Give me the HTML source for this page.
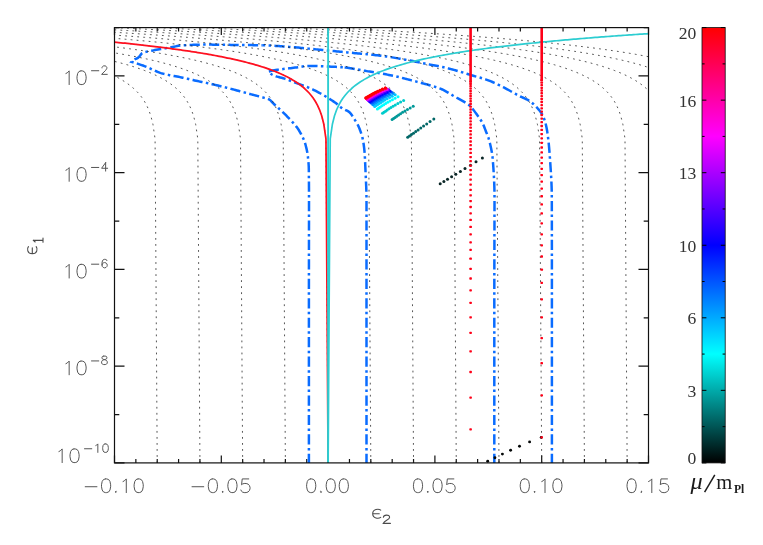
<!DOCTYPE html>
<html><head><meta charset="utf-8"><title>eps1-eps2</title>
<style>html,body{margin:0;padding:0;background:#fff;}svg{display:block;}</style></head>
<body>
<svg width="763" height="545" viewBox="0 0 763 545">
<defs>
<clipPath id="pc"><rect x="114.5" y="27.6" width="534" height="435.3"/></clipPath>
<linearGradient id="cb" x1="0" y1="1" x2="0" y2="0"><stop offset="0" stop-color="#000000"/><stop offset="0.25" stop-color="#00ffff"/><stop offset="0.5" stop-color="#0000ff"/><stop offset="0.75" stop-color="#ff00ff"/><stop offset="1" stop-color="#ff0000"/></linearGradient>
</defs>
<rect x="0" y="0" width="763" height="545" fill="#ffffff"/>
<g stroke="#111111" stroke-width="1.2" fill="none">
<path d="M114.5 462.9 v-7.5 M114.5 27.6 v7.5 M135.86 462.9 v-3.8 M135.86 27.6 v3.8 M157.22 462.9 v-3.8 M157.22 27.6 v3.8 M178.58 462.9 v-3.8 M178.58 27.6 v3.8 M199.94 462.9 v-3.8 M199.94 27.6 v3.8 M221.3 462.9 v-7.5 M221.3 27.6 v7.5 M242.66 462.9 v-3.8 M242.66 27.6 v3.8 M264.02 462.9 v-3.8 M264.02 27.6 v3.8 M285.38 462.9 v-3.8 M285.38 27.6 v3.8 M306.74 462.9 v-3.8 M306.74 27.6 v3.8 M328.1 462.9 v-7.5 M328.1 27.6 v7.5 M349.46 462.9 v-3.8 M349.46 27.6 v3.8 M370.82 462.9 v-3.8 M370.82 27.6 v3.8 M392.18 462.9 v-3.8 M392.18 27.6 v3.8 M413.54 462.9 v-3.8 M413.54 27.6 v3.8 M434.9 462.9 v-7.5 M434.9 27.6 v7.5 M456.26 462.9 v-3.8 M456.26 27.6 v3.8 M477.62 462.9 v-3.8 M477.62 27.6 v3.8 M498.98 462.9 v-3.8 M498.98 27.6 v3.8 M520.34 462.9 v-3.8 M520.34 27.6 v3.8 M541.7 462.9 v-7.5 M541.7 27.6 v7.5 M563.06 462.9 v-3.8 M563.06 27.6 v3.8 M584.42 462.9 v-3.8 M584.42 27.6 v3.8 M605.78 462.9 v-3.8 M605.78 27.6 v3.8 M627.14 462.9 v-3.8 M627.14 27.6 v3.8 M648.5 462.9 v-7.5 M648.5 27.6 v7.5 M114.5 27.6 h4.8 M648.5 27.6 h-4.8 M114.5 75.97 h10 M648.5 75.97 h-10 M114.5 124.33 h4.8 M648.5 124.33 h-4.8 M114.5 172.7 h10 M648.5 172.7 h-10 M114.5 221.07 h4.8 M648.5 221.07 h-4.8 M114.5 269.43 h10 M648.5 269.43 h-10 M114.5 317.8 h4.8 M648.5 317.8 h-4.8 M114.5 366.17 h10 M648.5 366.17 h-10 M114.5 414.53 h4.8 M648.5 414.53 h-4.8 M114.5 462.9 h10 M648.5 462.9 h-10"/>
</g>
<g clip-path="url(#pc)" fill="none">
<path d="M308.9 464 L308.9 462.5 L308.9 461 L308.9 459.51 L308.9 458.01 L308.9 456.51 L308.9 455.01 L308.9 453.52 L308.9 452.02 L308.9 450.52 L308.9 449.02 L308.9 447.53 L308.9 446.03 L308.9 444.53 L308.9 443.03 L308.9 441.54 L308.9 440.04 L308.9 438.54 L308.9 437.04 L308.9 435.55 L308.9 434.05 L308.9 432.55 L308.9 431.05 L308.9 429.55 L308.9 428.06 L308.9 426.56 L308.9 425.06 L308.9 423.56 L308.9 422.07 L308.9 420.57 L308.9 419.07 L308.9 417.57 L308.9 416.08 L308.9 414.58 L308.9 413.08 L308.9 411.58 L308.9 410.09 L308.9 408.59 L308.9 407.09 L308.9 405.59 L308.9 404.1 L308.9 402.6 L308.9 401.1 L308.9 399.6 L308.9 398.11 L308.9 396.61 L308.9 395.11 L308.9 393.61 L308.9 392.11 L308.9 390.62 L308.9 389.12 L308.9 387.62 L308.9 386.12 L308.9 384.63 L308.9 383.13 L308.9 381.63 L308.9 380.13 L308.9 378.64 L308.9 377.14 L308.9 375.64 L308.9 374.14 L308.9 372.65 L308.9 371.15 L308.9 369.65 L308.9 368.15 L308.9 366.66 L308.9 365.16 L308.9 363.66 L308.9 362.16 L308.9 360.66 L308.9 359.17 L308.9 357.67 L308.9 356.17 L308.9 354.67 L308.9 353.18 L308.9 351.68 L308.9 350.18 L308.9 348.68 L308.9 347.19 L308.9 345.69 L308.9 344.19 L308.9 342.69 L308.9 341.2 L308.9 339.7 L308.9 338.2 L308.9 336.7 L308.9 335.21 L308.9 333.71 L308.9 332.21 L308.9 330.71 L308.9 329.21 L308.9 327.72 L308.9 326.22 L308.9 324.72 L308.9 323.22 L308.9 321.73 L308.9 320.23 L308.9 318.73 L308.9 317.23 L308.9 315.74 L308.9 314.24 L308.9 312.74 L308.9 311.24 L308.9 309.75 L308.9 308.25 L308.9 306.75 L308.9 305.25 L308.9 303.76 L308.9 302.26 L308.9 300.76 L308.9 299.26 L308.9 297.77 L308.9 296.27 L308.9 294.77 L308.9 293.27 L308.9 291.77 L308.9 290.28 L308.9 288.78 L308.9 287.28 L308.91 285.78 L308.91 284.29 L308.91 282.79 L308.91 281.29 L308.91 279.79 L308.91 278.3 L308.91 276.8 L308.92 275.3 L308.92 273.8 L308.92 272.31 L308.92 270.81 L308.92 269.31 L308.92 267.81 L308.93 266.32 L308.93 264.82 L308.93 263.32 L308.93 261.82 L308.93 260.32 L308.94 258.83 L308.94 257.33 L308.94 255.83 L308.94 254.33 L308.95 252.84 L308.95 251.34 L308.95 249.84 L308.95 248.34 L308.95 246.85 L308.96 245.35 L308.96 243.85 L308.96 242.35 L308.96 240.86 L308.97 239.36 L308.97 237.86 L308.97 236.36 L308.97 234.87 L308.97 233.37 L308.98 231.87 L308.98 230.37 L308.98 228.87 L308.98 227.38 L308.98 225.88 L308.99 224.38 L308.99 222.88 L308.99 221.39 L308.99 219.89 L308.99 218.39 L308.99 216.89 L308.99 215.4 L308.99 213.9 L309 212.4 L309 210.9 L309 209.41 L309 207.91 L309 206.41 L309 204.91 L309 203.42 L309 201.92 L309 200.42 L309 198.92 L309 197.42 L309 195.93 L308.99 194.43 L308.99 192.93 L308.99 191.43 L308.98 189.93 L308.98 188.44 L308.97 186.94 L308.96 185.44 L308.95 183.94 L308.94 182.44 L308.93 180.94 L308.92 179.45 L308.91 177.95 L308.89 176.45 L308.88 174.96 L308.86 173.46 L308.84 171.96 L308.82 170.47 L308.8 168.97 L308.78 167.47 L308.71 165.98 L308.63 164.48 L308.52 162.98 L308.39 161.49 L308.24 160 L308.09 158.51 L307.94 157.02 L307.75 155.54 L307.53 154.05 L307.29 152.56 L307.01 151.08 L306.71 149.6 L306.38 148.13 L306.03 146.68 L305.67 145.25 L305.27 143.83 L304.81 142.41 L304.29 141 L303.73 139.59 L303.13 138.19 L302.49 136.81 L301.81 135.45 L301.11 134.11 L300.4 132.8 L299.66 131.52 L298.91 130.26 L298.11 129.04 L297.26 127.83 L296.37 126.64 L295.43 125.47 L294.46 124.32 L293.47 123.18 L292.45 122.05 L291.41 120.94 L290.37 119.83 L289.32 118.74 L288.27 117.65 L287.23 116.56 L286.2 115.48 L285.16 114.42 L284.09 113.37 L283.01 112.34 L281.92 111.31 L280.82 110.3 L279.71 109.28 L278.6 108.28 L277.48 107.27 L276.37 106.26 L275.27 105.25 L274.17 104.23 L273.08 103.19 L272.04 102.04 L270.99 100.91 L269.89 99.93 L268.67 99.24 L267.33 98.71 L265.89 98.25 L264.41 97.85 L262.92 97.46 L261.46 97.06 L260.02 96.65 L258.57 96.26 L257.13 95.87 L255.68 95.49 L254.23 95.11 L252.78 94.73 L251.33 94.35 L249.88 93.96 L248.44 93.56 L246.99 93.17 L245.55 92.77 L244.11 92.38 L242.66 91.98 L241.22 91.59 L239.77 91.2 L238.32 90.81 L236.88 90.42 L235.43 90.03 L233.98 89.65 L232.54 89.27 L231.09 88.89 L229.64 88.52 L228.19 88.15 L226.73 87.77 L225.28 87.4 L223.83 87.03 L222.38 86.66 L220.93 86.3 L219.47 85.94 L218.02 85.58 L216.56 85.23 L215.11 84.87 L213.65 84.53 L212.19 84.19 L210.73 83.86 L209.27 83.53 L207.81 83.21 L206.34 82.9 L204.88 82.61 L203.41 82.31 L201.94 82.01 L200.47 81.7 L199.01 81.39 L197.55 81.06 L196.09 80.74 L194.62 80.41 L193.16 80.08 L191.7 79.75 L190.24 79.41 L188.78 79.08 L187.32 78.75 L185.86 78.42 L184.4 78.09 L182.94 77.77 L181.48 77.45 L180.01 77.13 L178.54 76.84 L177.06 76.55 L175.58 76.27 L174.1 76 L172.62 75.73 L171.15 75.45 L169.67 75.17 L168.2 74.87 L166.74 74.56 L165.28 74.23 L163.84 73.88 L162.41 73.5 L160.99 73.08 L159.59 72.6 L158.2 72.07 L156.81 71.51 L155.44 70.91 L154.06 70.3 L152.69 69.66 L151.33 69.03 L149.96 68.4 L148.58 67.77 L147.2 67.17 L145.82 66.59 L144.42 66.05 L143.01 65.55 L141.6 65.06 L140.19 64.57 L138.76 64.1 L137.34 63.64 L135.91 63.19 L134.48 62.75 L133.04 62.32 L131.6 61.9 L132.68 60.84 L133.85 59.91 L135.13 59.16 L136.52 58.52 L137.85 57.83 L138.99 56.9 L139.99 55.69 L140.95 54.42 L141.97 53.33 L143.14 52.66 L144.49 52.21 L145.97 51.86 L147.5 51.56 L149.02 51.26 L150.48 50.95 L151.95 50.66 L153.42 50.37 L154.89 50.1 L156.37 49.83 L157.85 49.57 L159.32 49.31 L160.8 49.06 L162.28 48.81 L163.76 48.57 L165.24 48.32 L166.72 48.07 L168.19 47.81 L169.67 47.54 L171.15 47.25 L172.62 46.95 L174.1 46.65 L175.57 46.36 L177.05 46.09 L178.53 45.84 L180.01 45.62 L181.49 45.45 L182.98 45.32 L184.47 45.24 L185.96 45.17 L187.45 45.1 L188.95 45.03 L190.44 44.97 L191.94 44.91 L193.44 44.85 L194.94 44.8 L196.44 44.76 L197.94 44.72 L199.44 44.68 L200.95 44.65 L202.45 44.63 L203.95 44.61 L205.45 44.6 L206.95 44.6 L208.45 44.6 L209.94 44.61 L211.44 44.62 L212.94 44.63 L214.44 44.65 L215.94 44.66 L217.44 44.69 L218.94 44.71 L220.44 44.73 L221.93 44.75 L223.43 44.78 L224.93 44.8 L226.43 44.83 L227.93 44.85 L229.43 44.87 L230.93 44.89 L232.43 44.91 L233.92 44.93 L235.42 44.95 L236.92 44.96 L238.42 44.98 L239.92 44.99 L241.42 45.01 L242.92 45.02 L244.42 45.04 L245.92 45.05 L247.42 45.07 L248.92 45.08 L250.41 45.1 L251.91 45.12 L253.41 45.14 L254.91 45.16 L256.41 45.18 L257.91 45.21 L259.41 45.23 L260.9 45.26 L262.4 45.29" stroke="#0a6cff" stroke-width="2.5" stroke-dasharray="10.2 3.35 2.5 3.4" stroke-linejoin="miter"/>
<path d="M551.9 464 L551.9 462.5 L551.9 461 L551.9 459.5 L551.9 458 L551.9 456.51 L551.9 455.01 L551.9 453.51 L551.9 452.01 L551.9 450.51 L551.9 449.01 L551.9 447.51 L551.9 446.01 L551.9 444.52 L551.9 443.02 L551.9 441.52 L551.9 440.02 L551.9 438.52 L551.9 437.02 L551.9 435.52 L551.9 434.02 L551.9 432.52 L551.9 431.03 L551.9 429.53 L551.9 428.03 L551.9 426.53 L551.9 425.03 L551.9 423.53 L551.9 422.03 L551.9 420.53 L551.9 419.04 L551.9 417.54 L551.9 416.04 L551.9 414.54 L551.9 413.04 L551.9 411.54 L551.9 410.04 L551.9 408.54 L551.9 407.04 L551.9 405.55 L551.9 404.05 L551.9 402.55 L551.9 401.05 L551.9 399.55 L551.9 398.05 L551.9 396.55 L551.9 395.05 L551.9 393.56 L551.9 392.06 L551.9 390.56 L551.9 389.06 L551.9 387.56 L551.9 386.06 L551.9 384.56 L551.9 383.06 L551.9 381.56 L551.9 380.07 L551.9 378.57 L551.9 377.07 L551.9 375.57 L551.9 374.07 L551.9 372.57 L551.9 371.07 L551.9 369.57 L551.9 368.07 L551.9 366.58 L551.9 365.08 L551.9 363.58 L551.9 362.08 L551.9 360.58 L551.9 359.08 L551.9 357.58 L551.9 356.08 L551.9 354.59 L551.9 353.09 L551.9 351.59 L551.9 350.09 L551.9 348.59 L551.9 347.09 L551.9 345.59 L551.9 344.09 L551.9 342.59 L551.9 341.1 L551.9 339.6 L551.9 338.1 L551.9 336.6 L551.9 335.1 L551.9 333.6 L551.9 332.1 L551.9 330.6 L551.9 329.11 L551.9 327.61 L551.9 326.11 L551.9 324.61 L551.9 323.11 L551.9 321.61 L551.9 320.11 L551.9 318.61 L551.9 317.11 L551.9 315.62 L551.9 314.12 L551.9 312.62 L551.9 311.12 L551.9 309.62 L551.9 308.12 L551.9 306.62 L551.9 305.12 L551.9 303.63 L551.9 302.13 L551.9 300.63 L551.9 299.13 L551.9 297.63 L551.9 296.13 L551.9 294.63 L551.9 293.13 L551.9 291.63 L551.9 290.14 L551.9 288.64 L551.9 287.14 L551.9 285.64 L551.9 284.14 L551.9 282.64 L551.9 281.14 L551.9 279.64 L551.9 278.14 L551.9 276.64 L551.9 275.14 L551.89 273.65 L551.89 272.15 L551.89 270.65 L551.89 269.15 L551.89 267.65 L551.89 266.15 L551.89 264.65 L551.89 263.15 L551.89 261.65 L551.89 260.15 L551.89 258.65 L551.89 257.15 L551.88 255.66 L551.88 254.16 L551.88 252.66 L551.88 251.16 L551.88 249.66 L551.88 248.16 L551.88 246.66 L551.88 245.16 L551.87 243.66 L551.87 242.16 L551.87 240.66 L551.87 239.17 L551.87 237.67 L551.87 236.17 L551.86 234.67 L551.86 233.17 L551.86 231.67 L551.86 230.17 L551.86 228.67 L551.85 227.17 L551.85 225.68 L551.85 224.18 L551.85 222.68 L551.85 221.18 L551.84 219.68 L551.84 218.18 L551.84 216.68 L551.84 215.19 L551.83 213.69 L551.83 212.19 L551.83 210.69 L551.82 209.19 L551.82 207.69 L551.82 206.2 L551.82 204.7 L551.81 203.2 L551.81 201.7 L551.81 200.2 L551.8 198.71 L551.8 197.21 L551.79 195.71 L551.78 194.21 L551.76 192.71 L551.73 191.22 L551.7 189.72 L551.65 188.22 L551.61 186.72 L551.55 185.22 L551.49 183.73 L551.43 182.23 L551.36 180.73 L551.28 179.23 L551.21 177.73 L551.12 176.23 L551.04 174.74 L550.95 173.24 L550.86 171.74 L550.76 170.25 L550.66 168.75 L550.56 167.25 L550.46 165.76 L550.36 164.26 L550.25 162.76 L550.15 161.27 L550.04 159.77 L549.93 158.28 L549.83 156.79 L549.72 155.29 L549.61 153.8 L549.5 152.3 L549.39 150.81 L549.26 149.31 L549.14 147.81 L549 146.31 L548.86 144.81 L548.71 143.31 L548.55 141.82 L548.39 140.32 L548.22 138.83 L548.03 137.35 L547.84 135.86 L547.64 134.38 L547.42 132.9 L547.2 131.43 L546.96 129.97 L546.7 128.49 L546.4 127.01 L546.07 125.52 L545.7 124.04 L545.3 122.57 L544.87 121.11 L544.41 119.68 L543.91 118.28 L543.38 116.91 L542.81 115.58 L542.13 114.28 L541.33 113.01 L540.45 111.77 L539.5 110.56 L538.53 109.39 L537.55 108.26 L536.56 107.15 L535.52 106.05 L534.44 104.98 L533.33 103.94 L532.18 102.95 L531.01 102.03 L529.81 101.17 L528.57 100.39 L527.28 99.68 L525.94 99.01 L524.58 98.37 L523.19 97.75 L521.81 97.13 L520.43 96.5 L519.07 95.84 L517.74 95.15 L516.42 94.44 L515.11 93.72 L513.8 92.98 L512.49 92.24 L511.19 91.5 L509.88 90.76 L508.58 90.03 L507.27 89.3 L505.95 88.58 L504.63 87.88 L503.3 87.2 L501.96 86.53 L500.61 85.87 L499.27 85.2 L497.91 84.54 L496.56 83.89 L495.2 83.25 L493.83 82.62 L492.46 82.01 L491.08 81.42 L489.7 80.85 L488.31 80.31 L486.91 79.8 L485.5 79.31 L484.08 78.84 L482.65 78.4 L481.21 77.97 L479.77 77.56 L478.33 77.15 L476.88 76.74 L475.43 76.34 L473.99 75.93 L472.54 75.51 L471.11 75.08 L469.67 74.64 L468.24 74.2 L466.81 73.75 L465.38 73.3 L463.95 72.85 L462.52 72.41 L461.08 71.97 L459.65 71.53 L458.21 71.11 L456.77 70.7 L455.33 70.3 L453.88 69.91 L452.44 69.52 L450.99 69.14 L449.53 68.76 L448.08 68.39 L446.63 68.03 L445.17 67.68 L443.71 67.33 L442.25 67 L440.79 66.67 L439.32 66.36 L437.85 66.06 L436.38 65.78 L434.91 65.5 L433.43 65.23 L431.96 64.95 L430.49 64.68 L429.02 64.39 L427.55 64.09 L426.08 63.8 L424.61 63.5 L423.14 63.2 L421.67 62.89 L420.2 62.59 L418.73 62.29 L417.27 61.99 L415.8 61.69 L414.33 61.39 L412.86 61.1 L411.39 60.82 L409.91 60.54 L408.44 60.26 L406.97 59.99 L405.49 59.72 L404.02 59.45 L402.54 59.18 L401.07 58.92 L399.59 58.65 L398.11 58.39 L396.64 58.13 L395.16 57.87 L393.68 57.62 L392.2 57.37 L390.72 57.13 L389.24 56.9 L387.76 56.67 L386.28 56.46 L384.79 56.25 L383.31 56.05 L381.83 55.86 L380.34 55.68 L378.85 55.51 L377.36 55.34 L375.88 55.17 L374.39 55.01 L372.9 54.86 L371.4 54.7 L369.91 54.55 L368.42 54.41 L366.93 54.26 L365.44 54.12 L363.94 53.98 L362.45 53.84 L360.96 53.7 L359.46 53.56 L357.97 53.42 L356.48 53.28 L354.98 53.14 L353.49 53 L352 52.85 L350.51 52.7 L349.02 52.55 L347.52 52.41 L346.03 52.26 L344.54 52.11 L343.05 51.97 L341.56 51.82 L340.07 51.68 L338.57 51.53 L337.08 51.39 L335.59 51.25 L334.1 51.1 L332.61 50.96 L331.11 50.82 L329.62 50.67 L328.13 50.53 L326.64 50.39 L325.15 50.24 L323.65 50.1 L322.16 49.96 L320.67 49.81 L319.18 49.67 L317.69 49.52 L316.2 49.38 L314.7 49.23 L313.21 49.07 L311.72 48.92 L310.23 48.77 L308.74 48.62 L307.25 48.47 L305.75 48.32 L304.26 48.17 L302.77 48.03 L301.28 47.89 L299.79 47.75 L298.29 47.62 L296.8 47.49 L295.31 47.37 L293.81 47.25 L292.32 47.14 L290.83 47.02 L289.33 46.9 L287.84 46.78 L286.34 46.66 L284.85 46.55 L283.35 46.43 L281.86 46.32 L280.36 46.2 L278.86 46.1 L277.37 45.99 L275.87 45.89 L274.38 45.8 L272.88 45.71 L271.38 45.62 L269.89 45.55 L268.39 45.48 L266.89 45.42 L265.39 45.37 L263.9 45.32 L262.4 45.29" stroke="#0a6cff" stroke-width="2.5" stroke-dasharray="10.2 3.35 2.5 3.4" stroke-linejoin="miter"/>
<path d="M366.5 464 L366.5 462.5 L366.5 461 L366.5 459.5 L366.5 458 L366.5 456.5 L366.5 455 L366.5 453.51 L366.5 452.01 L366.5 450.51 L366.5 449.01 L366.5 447.51 L366.5 446.01 L366.5 444.51 L366.5 443.01 L366.5 441.51 L366.5 440.01 L366.5 438.51 L366.5 437.01 L366.5 435.52 L366.5 434.02 L366.5 432.52 L366.5 431.02 L366.5 429.52 L366.5 428.02 L366.5 426.52 L366.5 425.02 L366.5 423.52 L366.5 422.02 L366.5 420.52 L366.5 419.02 L366.5 417.53 L366.5 416.03 L366.5 414.53 L366.5 413.03 L366.5 411.53 L366.5 410.03 L366.5 408.53 L366.5 407.03 L366.5 405.53 L366.5 404.03 L366.5 402.53 L366.5 401.03 L366.5 399.54 L366.5 398.04 L366.5 396.54 L366.5 395.04 L366.5 393.54 L366.5 392.04 L366.5 390.54 L366.5 389.04 L366.5 387.54 L366.5 386.04 L366.5 384.54 L366.5 383.04 L366.5 381.54 L366.5 380.05 L366.5 378.55 L366.5 377.05 L366.5 375.55 L366.5 374.05 L366.5 372.55 L366.5 371.05 L366.5 369.55 L366.5 368.05 L366.5 366.55 L366.5 365.05 L366.5 363.55 L366.5 362.06 L366.5 360.56 L366.5 359.06 L366.5 357.56 L366.5 356.06 L366.5 354.56 L366.5 353.06 L366.5 351.56 L366.5 350.06 L366.5 348.56 L366.5 347.06 L366.5 345.56 L366.5 344.07 L366.5 342.57 L366.5 341.07 L366.5 339.57 L366.5 338.07 L366.5 336.57 L366.5 335.07 L366.5 333.57 L366.5 332.07 L366.5 330.57 L366.5 329.07 L366.5 327.57 L366.5 326.08 L366.5 324.58 L366.5 323.08 L366.5 321.58 L366.5 320.08 L366.5 318.58 L366.5 317.08 L366.5 315.58 L366.5 314.08 L366.5 312.58 L366.5 311.08 L366.5 309.58 L366.5 308.08 L366.5 306.59 L366.5 305.09 L366.5 303.59 L366.5 302.09 L366.5 300.59 L366.5 299.09 L366.5 297.59 L366.5 296.09 L366.5 294.59 L366.5 293.09 L366.5 291.59 L366.5 290.09 L366.5 288.6 L366.5 287.1 L366.5 285.6 L366.5 284.1 L366.5 282.6 L366.5 281.1 L366.5 279.6 L366.5 278.1 L366.5 276.6 L366.5 275.1 L366.5 273.6 L366.5 272.1 L366.5 270.6 L366.5 269.1 L366.5 267.6 L366.5 266.11 L366.5 264.61 L366.5 263.11 L366.5 261.61 L366.5 260.11 L366.5 258.61 L366.5 257.11 L366.5 255.61 L366.5 254.11 L366.5 252.61 L366.5 251.11 L366.5 249.61 L366.5 248.11 L366.5 246.61 L366.5 245.11 L366.5 243.62 L366.5 242.12 L366.5 240.62 L366.5 239.12 L366.5 237.62 L366.5 236.12 L366.5 234.62 L366.5 233.12 L366.5 231.62 L366.5 230.12 L366.5 228.62 L366.5 227.12 L366.5 225.62 L366.5 224.13 L366.5 222.63 L366.5 221.13 L366.5 219.63 L366.5 218.13 L366.5 216.63 L366.5 215.13 L366.5 213.63 L366.5 212.13 L366.5 210.64 L366.5 209.14 L366.5 207.64 L366.5 206.14 L366.5 204.64 L366.5 203.14 L366.5 201.64 L366.5 200.14 L366.5 198.65 L366.48 197.15 L366.46 195.65 L366.44 194.15 L366.4 192.65 L366.36 191.15 L366.32 189.65 L366.27 188.16 L366.21 186.66 L366.15 185.16 L366.09 183.66 L366.02 182.16 L365.96 180.66 L365.89 179.17 L365.82 177.67 L365.75 176.17 L365.67 174.67 L365.6 173.17 L365.54 171.68 L365.47 170.18 L365.4 168.68 L365.34 167.18 L365.28 165.68 L365.21 164.18 L365.15 162.69 L365.08 161.19 L365.01 159.69 L364.93 158.19 L364.85 156.69 L364.76 155.2 L364.66 153.71 L364.55 152.21 L364.42 150.72 L364.27 149.22 L364.1 147.72 L363.92 146.23 L363.72 144.74 L363.5 143.26 L363.26 141.78 L363 140.32 L362.71 138.86 L362.37 137.4 L361.98 135.94 L361.56 134.49 L361.1 133.05 L360.6 131.62 L360.08 130.2 L359.55 128.81 L358.99 127.44 L358.39 126.09 L357.72 124.76 L357 123.44 L356.25 122.14 L355.46 120.84 L354.65 119.56 L353.83 118.29 L353.02 117.03 L352.21 115.75 L351.39 114.44 L350.5 113.24 L349.49 112.25 L348.31 111.43 L347 110.7 L345.62 110.03 L344.22 109.36 L342.86 108.65 L341.59 107.85 L340.4 106.95 L339.26 105.99 L338.12 104.99 L336.98 104.01 L335.81 103.08 L334.59 102.21 L333.36 101.36 L332.11 100.53 L330.84 99.72 L329.57 98.92 L328.3 98.13 L327.02 97.34 L325.75 96.55 L324.46 95.77 L323.18 95.01 L321.88 94.25 L320.57 93.52 L319.26 92.8 L317.94 92.09 L316.61 91.39 L315.28 90.7 L313.93 90.03 L312.58 89.37 L311.22 88.74 L309.86 88.14 L308.48 87.56 L307.09 87.01 L305.69 86.48 L304.28 85.96 L302.87 85.45 L301.45 84.94 L300.04 84.43 L298.63 83.92 L297.22 83.4 L295.82 82.86 L294.42 82.32 L293.02 81.78 L291.62 81.24 L290.22 80.71 L288.82 80.18 L287.42 79.66 L286.01 79.15 L284.59 78.66 L283.14 78.22 L281.67 77.81 L280.18 77.43 L278.69 77.04 L277.22 76.64 L275.78 76.21 L274.39 75.72 L273.05 75.17 L271.8 74.51 L270.61 73.64 L269.48 72.61 L268.4 71.5 L269.87 71.18 L271.34 70.87 L272.81 70.58 L274.28 70.31 L275.76 70.06 L277.24 69.83 L278.72 69.62 L280.21 69.41 L281.69 69.21 L283.18 69.02 L284.67 68.84 L286.16 68.66 L287.65 68.49 L289.14 68.32 L290.63 68.14 L292.12 67.97 L293.61 67.79 L295.1 67.61 L296.59 67.41 L298.08 67.19 L299.57 66.96 L301.06 66.73 L302.55 66.51 L304.03 66.32 L305.53 66.15 L307.02 66.02 L308.51 65.93 L310 65.9 L311.5 65.91 L313 65.94 L314.5 65.99 L316 66.04 L317.5 66.1 L319 66.16 L320.5 66.22 L322 66.27 L323.5 66.33 L325 66.39 L326.5 66.45 L328 66.51 L329.5 66.57 L331 66.64 L332.5 66.71 L334 66.79 L335.5 66.87 L336.99 66.95 L338.49 67.04 L339.98 67.14 L341.48 67.24 L342.97 67.35" stroke="#0a6cff" stroke-width="2.5" stroke-dasharray="10.2 3.35 2.5 3.4" stroke-linejoin="miter"/>
<path d="M494.3 464 L494.3 462.5 L494.3 461 L494.3 459.5 L494.3 458 L494.3 456.5 L494.3 455 L494.3 453.5 L494.3 452 L494.3 450.5 L494.3 449 L494.3 447.5 L494.3 446 L494.3 444.5 L494.3 443 L494.3 441.5 L494.3 440 L494.3 438.5 L494.3 437 L494.3 435.5 L494.3 434 L494.3 432.5 L494.3 431 L494.3 429.5 L494.3 428 L494.3 426.5 L494.3 425 L494.3 423.5 L494.3 422 L494.3 420.51 L494.3 419.01 L494.3 417.51 L494.3 416.01 L494.3 414.51 L494.3 413.01 L494.3 411.51 L494.3 410.01 L494.3 408.51 L494.3 407.01 L494.3 405.51 L494.3 404.01 L494.3 402.51 L494.3 401.01 L494.3 399.51 L494.3 398.01 L494.3 396.51 L494.3 395.01 L494.3 393.51 L494.3 392.01 L494.3 390.51 L494.3 389.01 L494.3 387.51 L494.3 386.01 L494.3 384.51 L494.3 383.01 L494.3 381.51 L494.3 380.01 L494.3 378.51 L494.3 377.01 L494.3 375.51 L494.3 374.01 L494.3 372.51 L494.3 371.01 L494.3 369.51 L494.3 368.01 L494.3 366.51 L494.3 365.01 L494.3 363.51 L494.3 362.01 L494.3 360.51 L494.3 359.01 L494.3 357.51 L494.3 356.01 L494.3 354.51 L494.3 353.01 L494.3 351.51 L494.3 350.01 L494.3 348.51 L494.3 347.01 L494.3 345.51 L494.3 344.01 L494.3 342.51 L494.3 341.01 L494.3 339.51 L494.3 338.01 L494.3 336.52 L494.3 335.02 L494.3 333.52 L494.3 332.02 L494.3 330.52 L494.3 329.02 L494.3 327.52 L494.3 326.02 L494.3 324.52 L494.3 323.02 L494.3 321.52 L494.3 320.02 L494.3 318.52 L494.3 317.02 L494.3 315.52 L494.3 314.02 L494.3 312.52 L494.3 311.02 L494.3 309.52 L494.3 308.02 L494.3 306.52 L494.3 305.02 L494.3 303.52 L494.3 302.02 L494.3 300.52 L494.3 299.02 L494.3 297.52 L494.3 296.02 L494.3 294.52 L494.3 293.02 L494.3 291.52 L494.31 290.02 L494.31 288.52 L494.31 287.02 L494.31 285.52 L494.31 284.02 L494.32 282.52 L494.32 281.02 L494.32 279.52 L494.32 278.02 L494.33 276.52 L494.33 275.02 L494.33 273.52 L494.34 272.02 L494.34 270.52 L494.34 269.02 L494.35 267.52 L494.35 266.02 L494.35 264.52 L494.36 263.02 L494.36 261.52 L494.37 260.02 L494.37 258.52 L494.38 257.02 L494.38 255.52 L494.38 254.02 L494.39 252.52 L494.39 251.02 L494.4 249.52 L494.4 248.02 L494.41 246.52 L494.41 245.02 L494.41 243.52 L494.42 242.02 L494.42 240.52 L494.43 239.02 L494.43 237.52 L494.44 236.02 L494.44 234.52 L494.44 233.02 L494.45 231.52 L494.45 230.02 L494.46 228.52 L494.46 227.02 L494.46 225.52 L494.47 224.02 L494.47 222.52 L494.47 221.02 L494.48 219.52 L494.48 218.02 L494.48 216.52 L494.48 215.02 L494.49 213.52 L494.49 212.02 L494.49 210.52 L494.49 209.02 L494.49 207.53 L494.5 206.03 L494.5 204.53 L494.5 203.03 L494.5 201.53 L494.5 200.03 L494.5 198.53 L494.5 197.03 L494.5 195.53 L494.49 194.03 L494.47 192.53 L494.44 191.03 L494.41 189.53 L494.38 188.02 L494.33 186.52 L494.29 185.02 L494.23 183.51 L494.17 182.01 L494.11 180.51 L494.04 179.01 L493.96 177.5 L493.88 176 L493.8 174.5 L493.71 173 L493.62 171.51 L493.52 170.01 L493.42 168.51 L493.31 167.02 L493.21 165.53 L493.1 164.03 L492.98 162.54 L492.87 161.06 L492.75 159.57 L492.62 158.09 L492.46 156.6 L492.28 155.12 L492.06 153.63 L491.82 152.14 L491.55 150.66 L491.27 149.18 L490.96 147.7 L490.63 146.22 L490.28 144.75 L489.92 143.29 L489.55 141.84 L489.16 140.39 L488.77 138.95 L488.36 137.52 L487.86 136.12 L487.29 134.72 L486.7 133.33 L486.14 131.94 L485.6 130.53 L485.07 129.12 L484.53 127.71 L483.97 126.32 L483.38 124.94 L482.75 123.6 L482.06 122.28 L481.32 121 L480.52 119.73 L479.67 118.48 L478.8 117.25 L477.91 116.03 L477.02 114.81 L476.13 113.6 L475.25 112.37 L474.37 111.13 L473.47 109.89 L472.55 108.68 L471.59 107.52 L470.59 106.45 L469.53 105.48 L468.4 104.57 L467.21 103.72 L465.97 102.9 L464.69 102.12 L463.37 101.37 L462.03 100.63 L460.68 99.91 L459.33 99.19 L457.98 98.47 L456.65 97.74 L455.34 96.99 L454.05 96.23 L452.76 95.45 L451.47 94.66 L450.18 93.87 L448.89 93.09 L447.59 92.32 L446.28 91.57 L444.97 90.84 L443.64 90.15 L442.3 89.5 L440.95 88.89 L439.58 88.34 L438.18 87.83 L436.76 87.36 L435.32 86.91 L433.88 86.49 L432.43 86.07 L430.98 85.66 L429.54 85.24 L428.1 84.82 L426.66 84.41 L425.21 84 L423.77 83.6 L422.32 83.2 L420.87 82.81 L419.42 82.42 L417.97 82.04 L416.52 81.65 L415.07 81.28 L413.62 80.9 L412.17 80.52 L410.72 80.14 L409.27 79.76 L407.82 79.38 L406.36 79 L404.91 78.62 L403.45 78.25 L402 77.88 L400.54 77.52 L399.09 77.16 L397.63 76.81 L396.17 76.47 L394.71 76.14 L393.24 75.81 L391.78 75.5 L390.31 75.2 L388.84 74.91 L387.37 74.63 L385.9 74.35 L384.42 74.08 L382.95 73.82 L381.47 73.56 L379.99 73.31 L378.51 73.06 L377.03 72.81 L375.55 72.57 L374.07 72.33 L372.59 72.09 L371.11 71.84 L369.62 71.6 L368.14 71.36 L366.66 71.11 L365.19 70.85 L363.71 70.59 L362.23 70.31 L360.75 70.03 L359.27 69.75 L357.8 69.48 L356.32 69.2 L354.84 68.93 L353.36 68.67 L351.88 68.43 L350.4 68.2 L348.91 67.98 L347.43 67.79 L345.94 67.62 L344.46 67.47 L342.97 67.35" stroke="#0a6cff" stroke-width="2.5" stroke-dasharray="10.2 3.35 2.5 3.4" stroke-linejoin="miter"/>
<path d="M157.22 462.9 L155.08 138.89 L152.95 124.33 L150.81 115.82 L148.68 109.77 L146.54 105.09 L144.4 101.26 L142.27 98.02 L140.13 95.21 L138 92.74 L135.86 90.53 L133.72 88.52 L131.59 86.7 L129.45 85.02 L127.32 83.46 L125.18 82.01 L123.04 80.65 L120.91 79.38 L118.77 78.18 L116.64 77.04 L114.5 75.97 L112.36 74.94 L110.23 73.96 L108.09 73.03 L105.96 72.14 L103.82 71.28 L101.68 70.46 L99.55 69.66 L97.41 68.9 L95.28 68.16 L93.14 67.45 L91 66.76 L88.87 66.09 L86.73 65.45 L84.6 64.82 L82.46 64.21 L80.32 63.62 L78.19 63.04 L76.05 62.48 L73.92 61.94 L71.78 61.41 L69.64 60.89 L67.51 60.38 L65.37 59.89 L63.24 59.4 L61.1 58.93 L58.96 58.47 L56.83 58.02 L54.69 57.58 L52.56 57.14 L50.42 56.72 L48.28 56.3 L46.15 55.9 L44.01 55.5 L41.88 55.1 L39.74 54.72 L37.6 54.34 L35.47 53.97 L33.33 53.6 L31.2 53.24 L29.06 52.89 L26.92 52.54 L24.79 52.2 L22.65 51.87 L20.52 51.53 L18.38 51.21 L16.24 50.89 L14.11 50.57 L11.97 50.26 L9.84 49.95 L7.7 49.65 L5.56 49.35 L3.43 49.06 L1.29 48.77 L-0.84 48.48 L-2.98 48.2 L-5.12 47.92 L-7.25 47.65 L-9.39 47.38 L-11.52 47.11 L-13.66 46.85 L-15.8 46.59 L-17.93 46.33 L-20.07 46.07 L-22.2 45.82 L-24.34 45.57 L-26.48 45.33 L-28.61 45.09 L-30.75 44.85 L-32.88 44.61 L-35.02 44.37 L-37.16 44.14 L-39.29 43.91 L-41.43 43.68 L-43.56 43.46 L-45.7 43.24 L-47.84 43.02 L-49.97 42.8 L-52.11 42.58 L-54.24 42.37 L-56.38 42.16 L-58.52 41.95 L-60.65 41.74 L-62.79 41.54 L-64.92 41.34 L-67.06 41.13 L-69.2 40.94 L-71.33 40.74 L-73.47 40.54 L-75.6 40.35 L-77.74 40.16 L-79.88 39.97 L-82.01 39.78 L-84.15 39.59 L-86.28 39.41 L-88.42 39.22 L-90.56 39.04 L-92.69 38.86 L-94.83 38.68 L-96.96 38.51 L-99.1 38.33 L-101.24 38.16 L-103.37 37.98 L-105.51 37.81 L-107.64 37.64 L-109.78 37.47 L-111.92 37.31 L-114.05 37.14 L-116.19 36.97 L-118.32 36.81 L-120.46 36.65 L-122.6 36.49 L-124.73 36.33 L-126.87 36.17 L-129 36.01 L-131.14 35.86 L-133.28 35.7 L-135.41 35.55 L-137.55 35.39 L-139.68 35.24 L-141.82 35.09 L-143.96 34.94 L-146.09 34.79 L-148.23 34.65 L-150.36 34.5 L-152.5 34.35 L-154.64 34.21 L-156.77 34.07 L-158.91 33.92 L-161.04 33.78 L-163.18 33.64 L-165.32 33.5 L-167.45 33.36 L-169.59 33.23 L-171.72 33.09 L-173.86 32.95 L-176 32.82 L-178.13 32.68 L-180.27 32.55 L-182.4 32.42 L-184.54 32.29 L-186.68 32.16 L-188.81 32.03 L-190.95 31.9 L-193.08 31.77 L-195.22 31.64 L-197.36 31.51 L-199.49 31.39 L-201.63 31.26 L-203.76 31.14 L-205.9 31.01 L-208.04 30.89 L-210.17 30.77 L-212.31 30.65 L-214.44 30.53 L-216.58 30.4 L-218.72 30.29 L-220.85 30.17 L-222.99 30.05 L-225.12 29.93 L-227.26 29.81 L-229.4 29.7 L-231.53 29.58 L-233.67 29.47 L-235.8 29.35 L-237.94 29.24 L-240.08 29.12 L-242.21 29.01 L-244.35 28.9 L-246.48 28.79 L-248.62 28.68 L-250.76 28.57 L-252.89 28.46 L-255.03 28.35 L-257.16 28.24 L-259.3 28.13 L-261.44 28.02 L-263.57 27.92 L-265.71 27.81 L-267.84 27.71 L-269.98 27.6 L-272.12 27.5 L-274.25 27.39 L-276.39 27.29 L-278.52 27.18 L-280.66 27.08 L-282.8 26.98 L-284.93 26.88 L-287.07 26.78 L-289.2 26.68 L-291.34 26.58 L-293.48 26.48 L-295.61 26.38 L-297.75 26.28 L-299.88 26.18" stroke="#2a2a2a" stroke-width="0.8" stroke-dasharray="1.8 4.23"/>
<path d="M199.94 462.9 L197.8 138.89 L195.67 124.33 L193.53 115.82 L191.4 109.77 L189.26 105.09 L187.12 101.26 L184.99 98.02 L182.85 95.21 L180.72 92.74 L178.58 90.53 L176.44 88.52 L174.31 86.7 L172.17 85.02 L170.04 83.46 L167.9 82.01 L165.76 80.65 L163.63 79.38 L161.49 78.18 L159.36 77.04 L157.22 75.97 L155.08 74.94 L152.95 73.96 L150.81 73.03 L148.68 72.14 L146.54 71.28 L144.4 70.46 L142.27 69.66 L140.13 68.9 L138 68.16 L135.86 67.45 L133.72 66.76 L131.59 66.09 L129.45 65.45 L127.32 64.82 L125.18 64.21 L123.04 63.62 L120.91 63.04 L118.77 62.48 L116.64 61.94 L114.5 61.41 L112.36 60.89 L110.23 60.38 L108.09 59.89 L105.96 59.4 L103.82 58.93 L101.68 58.47 L99.55 58.02 L97.41 57.58 L95.28 57.14 L93.14 56.72 L91 56.3 L88.87 55.9 L86.73 55.5 L84.6 55.1 L82.46 54.72 L80.32 54.34 L78.19 53.97 L76.05 53.6 L73.92 53.24 L71.78 52.89 L69.64 52.54 L67.51 52.2 L65.37 51.87 L63.24 51.53 L61.1 51.21 L58.96 50.89 L56.83 50.57 L54.69 50.26 L52.56 49.95 L50.42 49.65 L48.28 49.35 L46.15 49.06 L44.01 48.77 L41.88 48.48 L39.74 48.2 L37.6 47.92 L35.47 47.65 L33.33 47.38 L31.2 47.11 L29.06 46.85 L26.92 46.59 L24.79 46.33 L22.65 46.07 L20.52 45.82 L18.38 45.57 L16.24 45.33 L14.11 45.09 L11.97 44.85 L9.84 44.61 L7.7 44.37 L5.56 44.14 L3.43 43.91 L1.29 43.68 L-0.84 43.46 L-2.98 43.24 L-5.12 43.02 L-7.25 42.8 L-9.39 42.58 L-11.52 42.37 L-13.66 42.16 L-15.8 41.95 L-17.93 41.74 L-20.07 41.54 L-22.2 41.34 L-24.34 41.13 L-26.48 40.94 L-28.61 40.74 L-30.75 40.54 L-32.88 40.35 L-35.02 40.16 L-37.16 39.97 L-39.29 39.78 L-41.43 39.59 L-43.56 39.41 L-45.7 39.22 L-47.84 39.04 L-49.97 38.86 L-52.11 38.68 L-54.24 38.51 L-56.38 38.33 L-58.52 38.16 L-60.65 37.98 L-62.79 37.81 L-64.92 37.64 L-67.06 37.47 L-69.2 37.31 L-71.33 37.14 L-73.47 36.97 L-75.6 36.81 L-77.74 36.65 L-79.88 36.49 L-82.01 36.33 L-84.15 36.17 L-86.28 36.01 L-88.42 35.86 L-90.56 35.7 L-92.69 35.55 L-94.83 35.39 L-96.96 35.24 L-99.1 35.09 L-101.24 34.94 L-103.37 34.79 L-105.51 34.65 L-107.64 34.5 L-109.78 34.35 L-111.92 34.21 L-114.05 34.07 L-116.19 33.92 L-118.32 33.78 L-120.46 33.64 L-122.6 33.5 L-124.73 33.36 L-126.87 33.23 L-129 33.09 L-131.14 32.95 L-133.28 32.82 L-135.41 32.68 L-137.55 32.55 L-139.68 32.42 L-141.82 32.29 L-143.96 32.16 L-146.09 32.03 L-148.23 31.9 L-150.36 31.77 L-152.5 31.64 L-154.64 31.51 L-156.77 31.39 L-158.91 31.26 L-161.04 31.14 L-163.18 31.01 L-165.32 30.89 L-167.45 30.77 L-169.59 30.65 L-171.72 30.53 L-173.86 30.4 L-176 30.29 L-178.13 30.17 L-180.27 30.05 L-182.4 29.93 L-184.54 29.81 L-186.68 29.7 L-188.81 29.58 L-190.95 29.47 L-193.08 29.35 L-195.22 29.24 L-197.36 29.12 L-199.49 29.01 L-201.63 28.9 L-203.76 28.79 L-205.9 28.68 L-208.04 28.57 L-210.17 28.46 L-212.31 28.35 L-214.44 28.24 L-216.58 28.13 L-218.72 28.02 L-220.85 27.92 L-222.99 27.81 L-225.12 27.71 L-227.26 27.6 L-229.4 27.5 L-231.53 27.39 L-233.67 27.29 L-235.8 27.18 L-237.94 27.08 L-240.08 26.98 L-242.21 26.88 L-244.35 26.78 L-246.48 26.68 L-248.62 26.58 L-250.76 26.48 L-252.89 26.38 L-255.03 26.28 L-257.16 26.18" stroke="#2a2a2a" stroke-width="0.8" stroke-dasharray="1.8 4.23"/>
<path d="M242.66 462.9 L240.52 138.89 L238.39 124.33 L236.25 115.82 L234.12 109.77 L231.98 105.09 L229.84 101.26 L227.71 98.02 L225.57 95.21 L223.44 92.74 L221.3 90.53 L219.16 88.52 L217.03 86.7 L214.89 85.02 L212.76 83.46 L210.62 82.01 L208.48 80.65 L206.35 79.38 L204.21 78.18 L202.08 77.04 L199.94 75.97 L197.8 74.94 L195.67 73.96 L193.53 73.03 L191.4 72.14 L189.26 71.28 L187.12 70.46 L184.99 69.66 L182.85 68.9 L180.72 68.16 L178.58 67.45 L176.44 66.76 L174.31 66.09 L172.17 65.45 L170.04 64.82 L167.9 64.21 L165.76 63.62 L163.63 63.04 L161.49 62.48 L159.36 61.94 L157.22 61.41 L155.08 60.89 L152.95 60.38 L150.81 59.89 L148.68 59.4 L146.54 58.93 L144.4 58.47 L142.27 58.02 L140.13 57.58 L138 57.14 L135.86 56.72 L133.72 56.3 L131.59 55.9 L129.45 55.5 L127.32 55.1 L125.18 54.72 L123.04 54.34 L120.91 53.97 L118.77 53.6 L116.64 53.24 L114.5 52.89 L112.36 52.54 L110.23 52.2 L108.09 51.87 L105.96 51.53 L103.82 51.21 L101.68 50.89 L99.55 50.57 L97.41 50.26 L95.28 49.95 L93.14 49.65 L91 49.35 L88.87 49.06 L86.73 48.77 L84.6 48.48 L82.46 48.2 L80.32 47.92 L78.19 47.65 L76.05 47.38 L73.92 47.11 L71.78 46.85 L69.64 46.59 L67.51 46.33 L65.37 46.07 L63.24 45.82 L61.1 45.57 L58.96 45.33 L56.83 45.09 L54.69 44.85 L52.56 44.61 L50.42 44.37 L48.28 44.14 L46.15 43.91 L44.01 43.68 L41.88 43.46 L39.74 43.24 L37.6 43.02 L35.47 42.8 L33.33 42.58 L31.2 42.37 L29.06 42.16 L26.92 41.95 L24.79 41.74 L22.65 41.54 L20.52 41.34 L18.38 41.13 L16.24 40.94 L14.11 40.74 L11.97 40.54 L9.84 40.35 L7.7 40.16 L5.56 39.97 L3.43 39.78 L1.29 39.59 L-0.84 39.41 L-2.98 39.22 L-5.12 39.04 L-7.25 38.86 L-9.39 38.68 L-11.52 38.51 L-13.66 38.33 L-15.8 38.16 L-17.93 37.98 L-20.07 37.81 L-22.2 37.64 L-24.34 37.47 L-26.48 37.31 L-28.61 37.14 L-30.75 36.97 L-32.88 36.81 L-35.02 36.65 L-37.16 36.49 L-39.29 36.33 L-41.43 36.17 L-43.56 36.01 L-45.7 35.86 L-47.84 35.7 L-49.97 35.55 L-52.11 35.39 L-54.24 35.24 L-56.38 35.09 L-58.52 34.94 L-60.65 34.79 L-62.79 34.65 L-64.92 34.5 L-67.06 34.35 L-69.2 34.21 L-71.33 34.07 L-73.47 33.92 L-75.6 33.78 L-77.74 33.64 L-79.88 33.5 L-82.01 33.36 L-84.15 33.23 L-86.28 33.09 L-88.42 32.95 L-90.56 32.82 L-92.69 32.68 L-94.83 32.55 L-96.96 32.42 L-99.1 32.29 L-101.24 32.16 L-103.37 32.03 L-105.51 31.9 L-107.64 31.77 L-109.78 31.64 L-111.92 31.51 L-114.05 31.39 L-116.19 31.26 L-118.32 31.14 L-120.46 31.01 L-122.6 30.89 L-124.73 30.77 L-126.87 30.65 L-129 30.53 L-131.14 30.4 L-133.28 30.29 L-135.41 30.17 L-137.55 30.05 L-139.68 29.93 L-141.82 29.81 L-143.96 29.7 L-146.09 29.58 L-148.23 29.47 L-150.36 29.35 L-152.5 29.24 L-154.64 29.12 L-156.77 29.01 L-158.91 28.9 L-161.04 28.79 L-163.18 28.68 L-165.32 28.57 L-167.45 28.46 L-169.59 28.35 L-171.72 28.24 L-173.86 28.13 L-176 28.02 L-178.13 27.92 L-180.27 27.81 L-182.4 27.71 L-184.54 27.6 L-186.68 27.5 L-188.81 27.39 L-190.95 27.29 L-193.08 27.18 L-195.22 27.08 L-197.36 26.98 L-199.49 26.88 L-201.63 26.78 L-203.76 26.68 L-205.9 26.58 L-208.04 26.48 L-210.17 26.38 L-212.31 26.28 L-214.44 26.18" stroke="#2a2a2a" stroke-width="0.8" stroke-dasharray="1.8 4.23"/>
<path d="M285.38 462.9 L283.24 138.89 L281.11 124.33 L278.97 115.82 L276.84 109.77 L274.7 105.09 L272.56 101.26 L270.43 98.02 L268.29 95.21 L266.16 92.74 L264.02 90.53 L261.88 88.52 L259.75 86.7 L257.61 85.02 L255.48 83.46 L253.34 82.01 L251.2 80.65 L249.07 79.38 L246.93 78.18 L244.8 77.04 L242.66 75.97 L240.52 74.94 L238.39 73.96 L236.25 73.03 L234.12 72.14 L231.98 71.28 L229.84 70.46 L227.71 69.66 L225.57 68.9 L223.44 68.16 L221.3 67.45 L219.16 66.76 L217.03 66.09 L214.89 65.45 L212.76 64.82 L210.62 64.21 L208.48 63.62 L206.35 63.04 L204.21 62.48 L202.08 61.94 L199.94 61.41 L197.8 60.89 L195.67 60.38 L193.53 59.89 L191.4 59.4 L189.26 58.93 L187.12 58.47 L184.99 58.02 L182.85 57.58 L180.72 57.14 L178.58 56.72 L176.44 56.3 L174.31 55.9 L172.17 55.5 L170.04 55.1 L167.9 54.72 L165.76 54.34 L163.63 53.97 L161.49 53.6 L159.36 53.24 L157.22 52.89 L155.08 52.54 L152.95 52.2 L150.81 51.87 L148.68 51.53 L146.54 51.21 L144.4 50.89 L142.27 50.57 L140.13 50.26 L138 49.95 L135.86 49.65 L133.72 49.35 L131.59 49.06 L129.45 48.77 L127.32 48.48 L125.18 48.2 L123.04 47.92 L120.91 47.65 L118.77 47.38 L116.64 47.11 L114.5 46.85 L112.36 46.59 L110.23 46.33 L108.09 46.07 L105.96 45.82 L103.82 45.57 L101.68 45.33 L99.55 45.09 L97.41 44.85 L95.28 44.61 L93.14 44.37 L91 44.14 L88.87 43.91 L86.73 43.68 L84.6 43.46 L82.46 43.24 L80.32 43.02 L78.19 42.8 L76.05 42.58 L73.92 42.37 L71.78 42.16 L69.64 41.95 L67.51 41.74 L65.37 41.54 L63.24 41.34 L61.1 41.13 L58.96 40.94 L56.83 40.74 L54.69 40.54 L52.56 40.35 L50.42 40.16 L48.28 39.97 L46.15 39.78 L44.01 39.59 L41.88 39.41 L39.74 39.22 L37.6 39.04 L35.47 38.86 L33.33 38.68 L31.2 38.51 L29.06 38.33 L26.92 38.16 L24.79 37.98 L22.65 37.81 L20.52 37.64 L18.38 37.47 L16.24 37.31 L14.11 37.14 L11.97 36.97 L9.84 36.81 L7.7 36.65 L5.56 36.49 L3.43 36.33 L1.29 36.17 L-0.84 36.01 L-2.98 35.86 L-5.12 35.7 L-7.25 35.55 L-9.39 35.39 L-11.52 35.24 L-13.66 35.09 L-15.8 34.94 L-17.93 34.79 L-20.07 34.65 L-22.2 34.5 L-24.34 34.35 L-26.48 34.21 L-28.61 34.07 L-30.75 33.92 L-32.88 33.78 L-35.02 33.64 L-37.16 33.5 L-39.29 33.36 L-41.43 33.23 L-43.56 33.09 L-45.7 32.95 L-47.84 32.82 L-49.97 32.68 L-52.11 32.55 L-54.24 32.42 L-56.38 32.29 L-58.52 32.16 L-60.65 32.03 L-62.79 31.9 L-64.92 31.77 L-67.06 31.64 L-69.2 31.51 L-71.33 31.39 L-73.47 31.26 L-75.6 31.14 L-77.74 31.01 L-79.88 30.89 L-82.01 30.77 L-84.15 30.65 L-86.28 30.53 L-88.42 30.4 L-90.56 30.29 L-92.69 30.17 L-94.83 30.05 L-96.96 29.93 L-99.1 29.81 L-101.24 29.7 L-103.37 29.58 L-105.51 29.47 L-107.64 29.35 L-109.78 29.24 L-111.92 29.12 L-114.05 29.01 L-116.19 28.9 L-118.32 28.79 L-120.46 28.68 L-122.6 28.57 L-124.73 28.46 L-126.87 28.35 L-129 28.24 L-131.14 28.13 L-133.28 28.02 L-135.41 27.92 L-137.55 27.81 L-139.68 27.71 L-141.82 27.6 L-143.96 27.5 L-146.09 27.39 L-148.23 27.29 L-150.36 27.18 L-152.5 27.08 L-154.64 26.98 L-156.77 26.88 L-158.91 26.78 L-161.04 26.68 L-163.18 26.58 L-165.32 26.48 L-167.45 26.38 L-169.59 26.28 L-171.72 26.18" stroke="#2a2a2a" stroke-width="0.8" stroke-dasharray="1.8 4.23"/>
<path d="M328.1 462.9 L325.96 138.89 L323.83 124.33 L321.69 115.82 L319.56 109.77 L317.42 105.09 L315.28 101.26 L313.15 98.02 L311.01 95.21 L308.88 92.74 L306.74 90.53 L304.6 88.52 L302.47 86.7 L300.33 85.02 L298.2 83.46 L296.06 82.01 L293.92 80.65 L291.79 79.38 L289.65 78.18 L287.52 77.04 L285.38 75.97 L283.24 74.94 L281.11 73.96 L278.97 73.03 L276.84 72.14 L274.7 71.28 L272.56 70.46 L270.43 69.66 L268.29 68.9 L266.16 68.16 L264.02 67.45 L261.88 66.76 L259.75 66.09 L257.61 65.45 L255.48 64.82 L253.34 64.21 L251.2 63.62 L249.07 63.04 L246.93 62.48 L244.8 61.94 L242.66 61.41 L240.52 60.89 L238.39 60.38 L236.25 59.89 L234.12 59.4 L231.98 58.93 L229.84 58.47 L227.71 58.02 L225.57 57.58 L223.44 57.14 L221.3 56.72 L219.16 56.3 L217.03 55.9 L214.89 55.5 L212.76 55.1 L210.62 54.72 L208.48 54.34 L206.35 53.97 L204.21 53.6 L202.08 53.24 L199.94 52.89 L197.8 52.54 L195.67 52.2 L193.53 51.87 L191.4 51.53 L189.26 51.21 L187.12 50.89 L184.99 50.57 L182.85 50.26 L180.72 49.95 L178.58 49.65 L176.44 49.35 L174.31 49.06 L172.17 48.77 L170.04 48.48 L167.9 48.2 L165.76 47.92 L163.63 47.65 L161.49 47.38 L159.36 47.11 L157.22 46.85 L155.08 46.59 L152.95 46.33 L150.81 46.07 L148.68 45.82 L146.54 45.57 L144.4 45.33 L142.27 45.09 L140.13 44.85 L138 44.61 L135.86 44.37 L133.72 44.14 L131.59 43.91 L129.45 43.68 L127.32 43.46 L125.18 43.24 L123.04 43.02 L120.91 42.8 L118.77 42.58 L116.64 42.37 L114.5 42.16 L112.36 41.95 L110.23 41.74 L108.09 41.54 L105.96 41.34 L103.82 41.13 L101.68 40.94 L99.55 40.74 L97.41 40.54 L95.28 40.35 L93.14 40.16 L91 39.97 L88.87 39.78 L86.73 39.59 L84.6 39.41 L82.46 39.22 L80.32 39.04 L78.19 38.86 L76.05 38.68 L73.92 38.51 L71.78 38.33 L69.64 38.16 L67.51 37.98 L65.37 37.81 L63.24 37.64 L61.1 37.47 L58.96 37.31 L56.83 37.14 L54.69 36.97 L52.56 36.81 L50.42 36.65 L48.28 36.49 L46.15 36.33 L44.01 36.17 L41.88 36.01 L39.74 35.86 L37.6 35.7 L35.47 35.55 L33.33 35.39 L31.2 35.24 L29.06 35.09 L26.92 34.94 L24.79 34.79 L22.65 34.65 L20.52 34.5 L18.38 34.35 L16.24 34.21 L14.11 34.07 L11.97 33.92 L9.84 33.78 L7.7 33.64 L5.56 33.5 L3.43 33.36 L1.29 33.23 L-0.84 33.09 L-2.98 32.95 L-5.12 32.82 L-7.25 32.68 L-9.39 32.55 L-11.52 32.42 L-13.66 32.29 L-15.8 32.16 L-17.93 32.03 L-20.07 31.9 L-22.2 31.77 L-24.34 31.64 L-26.48 31.51 L-28.61 31.39 L-30.75 31.26 L-32.88 31.14 L-35.02 31.01 L-37.16 30.89 L-39.29 30.77 L-41.43 30.65 L-43.56 30.53 L-45.7 30.4 L-47.84 30.29 L-49.97 30.17 L-52.11 30.05 L-54.24 29.93 L-56.38 29.81 L-58.52 29.7 L-60.65 29.58 L-62.79 29.47 L-64.92 29.35 L-67.06 29.24 L-69.2 29.12 L-71.33 29.01 L-73.47 28.9 L-75.6 28.79 L-77.74 28.68 L-79.88 28.57 L-82.01 28.46 L-84.15 28.35 L-86.28 28.24 L-88.42 28.13 L-90.56 28.02 L-92.69 27.92 L-94.83 27.81 L-96.96 27.71 L-99.1 27.6 L-101.24 27.5 L-103.37 27.39 L-105.51 27.29 L-107.64 27.18 L-109.78 27.08 L-111.92 26.98 L-114.05 26.88 L-116.19 26.78 L-118.32 26.68 L-120.46 26.58 L-122.6 26.48 L-124.73 26.38 L-126.87 26.28 L-129 26.18" stroke="#2a2a2a" stroke-width="0.8" stroke-dasharray="1.8 4.23"/>
<path d="M370.82 462.9 L368.68 138.89 L366.55 124.33 L364.41 115.82 L362.28 109.77 L360.14 105.09 L358 101.26 L355.87 98.02 L353.73 95.21 L351.6 92.74 L349.46 90.53 L347.32 88.52 L345.19 86.7 L343.05 85.02 L340.92 83.46 L338.78 82.01 L336.64 80.65 L334.51 79.38 L332.37 78.18 L330.24 77.04 L328.1 75.97 L325.96 74.94 L323.83 73.96 L321.69 73.03 L319.56 72.14 L317.42 71.28 L315.28 70.46 L313.15 69.66 L311.01 68.9 L308.88 68.16 L306.74 67.45 L304.6 66.76 L302.47 66.09 L300.33 65.45 L298.2 64.82 L296.06 64.21 L293.92 63.62 L291.79 63.04 L289.65 62.48 L287.52 61.94 L285.38 61.41 L283.24 60.89 L281.11 60.38 L278.97 59.89 L276.84 59.4 L274.7 58.93 L272.56 58.47 L270.43 58.02 L268.29 57.58 L266.16 57.14 L264.02 56.72 L261.88 56.3 L259.75 55.9 L257.61 55.5 L255.48 55.1 L253.34 54.72 L251.2 54.34 L249.07 53.97 L246.93 53.6 L244.8 53.24 L242.66 52.89 L240.52 52.54 L238.39 52.2 L236.25 51.87 L234.12 51.53 L231.98 51.21 L229.84 50.89 L227.71 50.57 L225.57 50.26 L223.44 49.95 L221.3 49.65 L219.16 49.35 L217.03 49.06 L214.89 48.77 L212.76 48.48 L210.62 48.2 L208.48 47.92 L206.35 47.65 L204.21 47.38 L202.08 47.11 L199.94 46.85 L197.8 46.59 L195.67 46.33 L193.53 46.07 L191.4 45.82 L189.26 45.57 L187.12 45.33 L184.99 45.09 L182.85 44.85 L180.72 44.61 L178.58 44.37 L176.44 44.14 L174.31 43.91 L172.17 43.68 L170.04 43.46 L167.9 43.24 L165.76 43.02 L163.63 42.8 L161.49 42.58 L159.36 42.37 L157.22 42.16 L155.08 41.95 L152.95 41.74 L150.81 41.54 L148.68 41.34 L146.54 41.13 L144.4 40.94 L142.27 40.74 L140.13 40.54 L138 40.35 L135.86 40.16 L133.72 39.97 L131.59 39.78 L129.45 39.59 L127.32 39.41 L125.18 39.22 L123.04 39.04 L120.91 38.86 L118.77 38.68 L116.64 38.51 L114.5 38.33 L112.36 38.16 L110.23 37.98 L108.09 37.81 L105.96 37.64 L103.82 37.47 L101.68 37.31 L99.55 37.14 L97.41 36.97 L95.28 36.81 L93.14 36.65 L91 36.49 L88.87 36.33 L86.73 36.17 L84.6 36.01 L82.46 35.86 L80.32 35.7 L78.19 35.55 L76.05 35.39 L73.92 35.24 L71.78 35.09 L69.64 34.94 L67.51 34.79 L65.37 34.65 L63.24 34.5 L61.1 34.35 L58.96 34.21 L56.83 34.07 L54.69 33.92 L52.56 33.78 L50.42 33.64 L48.28 33.5 L46.15 33.36 L44.01 33.23 L41.88 33.09 L39.74 32.95 L37.6 32.82 L35.47 32.68 L33.33 32.55 L31.2 32.42 L29.06 32.29 L26.92 32.16 L24.79 32.03 L22.65 31.9 L20.52 31.77 L18.38 31.64 L16.24 31.51 L14.11 31.39 L11.97 31.26 L9.84 31.14 L7.7 31.01 L5.56 30.89 L3.43 30.77 L1.29 30.65 L-0.84 30.53 L-2.98 30.4 L-5.12 30.29 L-7.25 30.17 L-9.39 30.05 L-11.52 29.93 L-13.66 29.81 L-15.8 29.7 L-17.93 29.58 L-20.07 29.47 L-22.2 29.35 L-24.34 29.24 L-26.48 29.12 L-28.61 29.01 L-30.75 28.9 L-32.88 28.79 L-35.02 28.68 L-37.16 28.57 L-39.29 28.46 L-41.43 28.35 L-43.56 28.24 L-45.7 28.13 L-47.84 28.02 L-49.97 27.92 L-52.11 27.81 L-54.24 27.71 L-56.38 27.6 L-58.52 27.5 L-60.65 27.39 L-62.79 27.29 L-64.92 27.18 L-67.06 27.08 L-69.2 26.98 L-71.33 26.88 L-73.47 26.78 L-75.6 26.68 L-77.74 26.58 L-79.88 26.48 L-82.01 26.38 L-84.15 26.28 L-86.28 26.18" stroke="#2a2a2a" stroke-width="0.8" stroke-dasharray="1.8 4.23"/>
<path d="M413.54 462.9 L411.4 138.89 L409.27 124.33 L407.13 115.82 L405 109.77 L402.86 105.09 L400.72 101.26 L398.59 98.02 L396.45 95.21 L394.32 92.74 L392.18 90.53 L390.04 88.52 L387.91 86.7 L385.77 85.02 L383.64 83.46 L381.5 82.01 L379.36 80.65 L377.23 79.38 L375.09 78.18 L372.96 77.04 L370.82 75.97 L368.68 74.94 L366.55 73.96 L364.41 73.03 L362.28 72.14 L360.14 71.28 L358 70.46 L355.87 69.66 L353.73 68.9 L351.6 68.16 L349.46 67.45 L347.32 66.76 L345.19 66.09 L343.05 65.45 L340.92 64.82 L338.78 64.21 L336.64 63.62 L334.51 63.04 L332.37 62.48 L330.24 61.94 L328.1 61.41 L325.96 60.89 L323.83 60.38 L321.69 59.89 L319.56 59.4 L317.42 58.93 L315.28 58.47 L313.15 58.02 L311.01 57.58 L308.88 57.14 L306.74 56.72 L304.6 56.3 L302.47 55.9 L300.33 55.5 L298.2 55.1 L296.06 54.72 L293.92 54.34 L291.79 53.97 L289.65 53.6 L287.52 53.24 L285.38 52.89 L283.24 52.54 L281.11 52.2 L278.97 51.87 L276.84 51.53 L274.7 51.21 L272.56 50.89 L270.43 50.57 L268.29 50.26 L266.16 49.95 L264.02 49.65 L261.88 49.35 L259.75 49.06 L257.61 48.77 L255.48 48.48 L253.34 48.2 L251.2 47.92 L249.07 47.65 L246.93 47.38 L244.8 47.11 L242.66 46.85 L240.52 46.59 L238.39 46.33 L236.25 46.07 L234.12 45.82 L231.98 45.57 L229.84 45.33 L227.71 45.09 L225.57 44.85 L223.44 44.61 L221.3 44.37 L219.16 44.14 L217.03 43.91 L214.89 43.68 L212.76 43.46 L210.62 43.24 L208.48 43.02 L206.35 42.8 L204.21 42.58 L202.08 42.37 L199.94 42.16 L197.8 41.95 L195.67 41.74 L193.53 41.54 L191.4 41.34 L189.26 41.13 L187.12 40.94 L184.99 40.74 L182.85 40.54 L180.72 40.35 L178.58 40.16 L176.44 39.97 L174.31 39.78 L172.17 39.59 L170.04 39.41 L167.9 39.22 L165.76 39.04 L163.63 38.86 L161.49 38.68 L159.36 38.51 L157.22 38.33 L155.08 38.16 L152.95 37.98 L150.81 37.81 L148.68 37.64 L146.54 37.47 L144.4 37.31 L142.27 37.14 L140.13 36.97 L138 36.81 L135.86 36.65 L133.72 36.49 L131.59 36.33 L129.45 36.17 L127.32 36.01 L125.18 35.86 L123.04 35.7 L120.91 35.55 L118.77 35.39 L116.64 35.24 L114.5 35.09 L112.36 34.94 L110.23 34.79 L108.09 34.65 L105.96 34.5 L103.82 34.35 L101.68 34.21 L99.55 34.07 L97.41 33.92 L95.28 33.78 L93.14 33.64 L91 33.5 L88.87 33.36 L86.73 33.23 L84.6 33.09 L82.46 32.95 L80.32 32.82 L78.19 32.68 L76.05 32.55 L73.92 32.42 L71.78 32.29 L69.64 32.16 L67.51 32.03 L65.37 31.9 L63.24 31.77 L61.1 31.64 L58.96 31.51 L56.83 31.39 L54.69 31.26 L52.56 31.14 L50.42 31.01 L48.28 30.89 L46.15 30.77 L44.01 30.65 L41.88 30.53 L39.74 30.4 L37.6 30.29 L35.47 30.17 L33.33 30.05 L31.2 29.93 L29.06 29.81 L26.92 29.7 L24.79 29.58 L22.65 29.47 L20.52 29.35 L18.38 29.24 L16.24 29.12 L14.11 29.01 L11.97 28.9 L9.84 28.79 L7.7 28.68 L5.56 28.57 L3.43 28.46 L1.29 28.35 L-0.84 28.24 L-2.98 28.13 L-5.12 28.02 L-7.25 27.92 L-9.39 27.81 L-11.52 27.71 L-13.66 27.6 L-15.8 27.5 L-17.93 27.39 L-20.07 27.29 L-22.2 27.18 L-24.34 27.08 L-26.48 26.98 L-28.61 26.88 L-30.75 26.78 L-32.88 26.68 L-35.02 26.58 L-37.16 26.48 L-39.29 26.38 L-41.43 26.28 L-43.56 26.18" stroke="#2a2a2a" stroke-width="0.8" stroke-dasharray="1.8 4.23"/>
<path d="M456.26 462.9 L454.12 138.89 L451.99 124.33 L449.85 115.82 L447.72 109.77 L445.58 105.09 L443.44 101.26 L441.31 98.02 L439.17 95.21 L437.04 92.74 L434.9 90.53 L432.76 88.52 L430.63 86.7 L428.49 85.02 L426.36 83.46 L424.22 82.01 L422.08 80.65 L419.95 79.38 L417.81 78.18 L415.68 77.04 L413.54 75.97 L411.4 74.94 L409.27 73.96 L407.13 73.03 L405 72.14 L402.86 71.28 L400.72 70.46 L398.59 69.66 L396.45 68.9 L394.32 68.16 L392.18 67.45 L390.04 66.76 L387.91 66.09 L385.77 65.45 L383.64 64.82 L381.5 64.21 L379.36 63.62 L377.23 63.04 L375.09 62.48 L372.96 61.94 L370.82 61.41 L368.68 60.89 L366.55 60.38 L364.41 59.89 L362.28 59.4 L360.14 58.93 L358 58.47 L355.87 58.02 L353.73 57.58 L351.6 57.14 L349.46 56.72 L347.32 56.3 L345.19 55.9 L343.05 55.5 L340.92 55.1 L338.78 54.72 L336.64 54.34 L334.51 53.97 L332.37 53.6 L330.24 53.24 L328.1 52.89 L325.96 52.54 L323.83 52.2 L321.69 51.87 L319.56 51.53 L317.42 51.21 L315.28 50.89 L313.15 50.57 L311.01 50.26 L308.88 49.95 L306.74 49.65 L304.6 49.35 L302.47 49.06 L300.33 48.77 L298.2 48.48 L296.06 48.2 L293.92 47.92 L291.79 47.65 L289.65 47.38 L287.52 47.11 L285.38 46.85 L283.24 46.59 L281.11 46.33 L278.97 46.07 L276.84 45.82 L274.7 45.57 L272.56 45.33 L270.43 45.09 L268.29 44.85 L266.16 44.61 L264.02 44.37 L261.88 44.14 L259.75 43.91 L257.61 43.68 L255.48 43.46 L253.34 43.24 L251.2 43.02 L249.07 42.8 L246.93 42.58 L244.8 42.37 L242.66 42.16 L240.52 41.95 L238.39 41.74 L236.25 41.54 L234.12 41.34 L231.98 41.13 L229.84 40.94 L227.71 40.74 L225.57 40.54 L223.44 40.35 L221.3 40.16 L219.16 39.97 L217.03 39.78 L214.89 39.59 L212.76 39.41 L210.62 39.22 L208.48 39.04 L206.35 38.86 L204.21 38.68 L202.08 38.51 L199.94 38.33 L197.8 38.16 L195.67 37.98 L193.53 37.81 L191.4 37.64 L189.26 37.47 L187.12 37.31 L184.99 37.14 L182.85 36.97 L180.72 36.81 L178.58 36.65 L176.44 36.49 L174.31 36.33 L172.17 36.17 L170.04 36.01 L167.9 35.86 L165.76 35.7 L163.63 35.55 L161.49 35.39 L159.36 35.24 L157.22 35.09 L155.08 34.94 L152.95 34.79 L150.81 34.65 L148.68 34.5 L146.54 34.35 L144.4 34.21 L142.27 34.07 L140.13 33.92 L138 33.78 L135.86 33.64 L133.72 33.5 L131.59 33.36 L129.45 33.23 L127.32 33.09 L125.18 32.95 L123.04 32.82 L120.91 32.68 L118.77 32.55 L116.64 32.42 L114.5 32.29 L112.36 32.16 L110.23 32.03 L108.09 31.9 L105.96 31.77 L103.82 31.64 L101.68 31.51 L99.55 31.39 L97.41 31.26 L95.28 31.14 L93.14 31.01 L91 30.89 L88.87 30.77 L86.73 30.65 L84.6 30.53 L82.46 30.4 L80.32 30.29 L78.19 30.17 L76.05 30.05 L73.92 29.93 L71.78 29.81 L69.64 29.7 L67.51 29.58 L65.37 29.47 L63.24 29.35 L61.1 29.24 L58.96 29.12 L56.83 29.01 L54.69 28.9 L52.56 28.79 L50.42 28.68 L48.28 28.57 L46.15 28.46 L44.01 28.35 L41.88 28.24 L39.74 28.13 L37.6 28.02 L35.47 27.92 L33.33 27.81 L31.2 27.71 L29.06 27.6 L26.92 27.5 L24.79 27.39 L22.65 27.29 L20.52 27.18 L18.38 27.08 L16.24 26.98 L14.11 26.88 L11.97 26.78 L9.84 26.68 L7.7 26.58 L5.56 26.48 L3.43 26.38 L1.29 26.28 L-0.84 26.18" stroke="#2a2a2a" stroke-width="0.8" stroke-dasharray="1.8 4.23"/>
<path d="M498.98 462.9 L496.84 138.89 L494.71 124.33 L492.57 115.82 L490.44 109.77 L488.3 105.09 L486.16 101.26 L484.03 98.02 L481.89 95.21 L479.76 92.74 L477.62 90.53 L475.48 88.52 L473.35 86.7 L471.21 85.02 L469.08 83.46 L466.94 82.01 L464.8 80.65 L462.67 79.38 L460.53 78.18 L458.4 77.04 L456.26 75.97 L454.12 74.94 L451.99 73.96 L449.85 73.03 L447.72 72.14 L445.58 71.28 L443.44 70.46 L441.31 69.66 L439.17 68.9 L437.04 68.16 L434.9 67.45 L432.76 66.76 L430.63 66.09 L428.49 65.45 L426.36 64.82 L424.22 64.21 L422.08 63.62 L419.95 63.04 L417.81 62.48 L415.68 61.94 L413.54 61.41 L411.4 60.89 L409.27 60.38 L407.13 59.89 L405 59.4 L402.86 58.93 L400.72 58.47 L398.59 58.02 L396.45 57.58 L394.32 57.14 L392.18 56.72 L390.04 56.3 L387.91 55.9 L385.77 55.5 L383.64 55.1 L381.5 54.72 L379.36 54.34 L377.23 53.97 L375.09 53.6 L372.96 53.24 L370.82 52.89 L368.68 52.54 L366.55 52.2 L364.41 51.87 L362.28 51.53 L360.14 51.21 L358 50.89 L355.87 50.57 L353.73 50.26 L351.6 49.95 L349.46 49.65 L347.32 49.35 L345.19 49.06 L343.05 48.77 L340.92 48.48 L338.78 48.2 L336.64 47.92 L334.51 47.65 L332.37 47.38 L330.24 47.11 L328.1 46.85 L325.96 46.59 L323.83 46.33 L321.69 46.07 L319.56 45.82 L317.42 45.57 L315.28 45.33 L313.15 45.09 L311.01 44.85 L308.88 44.61 L306.74 44.37 L304.6 44.14 L302.47 43.91 L300.33 43.68 L298.2 43.46 L296.06 43.24 L293.92 43.02 L291.79 42.8 L289.65 42.58 L287.52 42.37 L285.38 42.16 L283.24 41.95 L281.11 41.74 L278.97 41.54 L276.84 41.34 L274.7 41.13 L272.56 40.94 L270.43 40.74 L268.29 40.54 L266.16 40.35 L264.02 40.16 L261.88 39.97 L259.75 39.78 L257.61 39.59 L255.48 39.41 L253.34 39.22 L251.2 39.04 L249.07 38.86 L246.93 38.68 L244.8 38.51 L242.66 38.33 L240.52 38.16 L238.39 37.98 L236.25 37.81 L234.12 37.64 L231.98 37.47 L229.84 37.31 L227.71 37.14 L225.57 36.97 L223.44 36.81 L221.3 36.65 L219.16 36.49 L217.03 36.33 L214.89 36.17 L212.76 36.01 L210.62 35.86 L208.48 35.7 L206.35 35.55 L204.21 35.39 L202.08 35.24 L199.94 35.09 L197.8 34.94 L195.67 34.79 L193.53 34.65 L191.4 34.5 L189.26 34.35 L187.12 34.21 L184.99 34.07 L182.85 33.92 L180.72 33.78 L178.58 33.64 L176.44 33.5 L174.31 33.36 L172.17 33.23 L170.04 33.09 L167.9 32.95 L165.76 32.82 L163.63 32.68 L161.49 32.55 L159.36 32.42 L157.22 32.29 L155.08 32.16 L152.95 32.03 L150.81 31.9 L148.68 31.77 L146.54 31.64 L144.4 31.51 L142.27 31.39 L140.13 31.26 L138 31.14 L135.86 31.01 L133.72 30.89 L131.59 30.77 L129.45 30.65 L127.32 30.53 L125.18 30.4 L123.04 30.29 L120.91 30.17 L118.77 30.05 L116.64 29.93 L114.5 29.81 L112.36 29.7 L110.23 29.58 L108.09 29.47 L105.96 29.35 L103.82 29.24 L101.68 29.12 L99.55 29.01 L97.41 28.9 L95.28 28.79 L93.14 28.68 L91 28.57 L88.87 28.46 L86.73 28.35 L84.6 28.24 L82.46 28.13 L80.32 28.02 L78.19 27.92 L76.05 27.81 L73.92 27.71 L71.78 27.6 L69.64 27.5 L67.51 27.39 L65.37 27.29 L63.24 27.18 L61.1 27.08 L58.96 26.98 L56.83 26.88 L54.69 26.78 L52.56 26.68 L50.42 26.58 L48.28 26.48 L46.15 26.38 L44.01 26.28 L41.88 26.18" stroke="#2a2a2a" stroke-width="0.8" stroke-dasharray="1.8 4.23"/>
<path d="M541.7 462.9 L539.56 138.89 L537.43 124.33 L535.29 115.82 L533.16 109.77 L531.02 105.09 L528.88 101.26 L526.75 98.02 L524.61 95.21 L522.48 92.74 L520.34 90.53 L518.2 88.52 L516.07 86.7 L513.93 85.02 L511.8 83.46 L509.66 82.01 L507.52 80.65 L505.39 79.38 L503.25 78.18 L501.12 77.04 L498.98 75.97 L496.84 74.94 L494.71 73.96 L492.57 73.03 L490.44 72.14 L488.3 71.28 L486.16 70.46 L484.03 69.66 L481.89 68.9 L479.76 68.16 L477.62 67.45 L475.48 66.76 L473.35 66.09 L471.21 65.45 L469.08 64.82 L466.94 64.21 L464.8 63.62 L462.67 63.04 L460.53 62.48 L458.4 61.94 L456.26 61.41 L454.12 60.89 L451.99 60.38 L449.85 59.89 L447.72 59.4 L445.58 58.93 L443.44 58.47 L441.31 58.02 L439.17 57.58 L437.04 57.14 L434.9 56.72 L432.76 56.3 L430.63 55.9 L428.49 55.5 L426.36 55.1 L424.22 54.72 L422.08 54.34 L419.95 53.97 L417.81 53.6 L415.68 53.24 L413.54 52.89 L411.4 52.54 L409.27 52.2 L407.13 51.87 L405 51.53 L402.86 51.21 L400.72 50.89 L398.59 50.57 L396.45 50.26 L394.32 49.95 L392.18 49.65 L390.04 49.35 L387.91 49.06 L385.77 48.77 L383.64 48.48 L381.5 48.2 L379.36 47.92 L377.23 47.65 L375.09 47.38 L372.96 47.11 L370.82 46.85 L368.68 46.59 L366.55 46.33 L364.41 46.07 L362.28 45.82 L360.14 45.57 L358 45.33 L355.87 45.09 L353.73 44.85 L351.6 44.61 L349.46 44.37 L347.32 44.14 L345.19 43.91 L343.05 43.68 L340.92 43.46 L338.78 43.24 L336.64 43.02 L334.51 42.8 L332.37 42.58 L330.24 42.37 L328.1 42.16 L325.96 41.95 L323.83 41.74 L321.69 41.54 L319.56 41.34 L317.42 41.13 L315.28 40.94 L313.15 40.74 L311.01 40.54 L308.88 40.35 L306.74 40.16 L304.6 39.97 L302.47 39.78 L300.33 39.59 L298.2 39.41 L296.06 39.22 L293.92 39.04 L291.79 38.86 L289.65 38.68 L287.52 38.51 L285.38 38.33 L283.24 38.16 L281.11 37.98 L278.97 37.81 L276.84 37.64 L274.7 37.47 L272.56 37.31 L270.43 37.14 L268.29 36.97 L266.16 36.81 L264.02 36.65 L261.88 36.49 L259.75 36.33 L257.61 36.17 L255.48 36.01 L253.34 35.86 L251.2 35.7 L249.07 35.55 L246.93 35.39 L244.8 35.24 L242.66 35.09 L240.52 34.94 L238.39 34.79 L236.25 34.65 L234.12 34.5 L231.98 34.35 L229.84 34.21 L227.71 34.07 L225.57 33.92 L223.44 33.78 L221.3 33.64 L219.16 33.5 L217.03 33.36 L214.89 33.23 L212.76 33.09 L210.62 32.95 L208.48 32.82 L206.35 32.68 L204.21 32.55 L202.08 32.42 L199.94 32.29 L197.8 32.16 L195.67 32.03 L193.53 31.9 L191.4 31.77 L189.26 31.64 L187.12 31.51 L184.99 31.39 L182.85 31.26 L180.72 31.14 L178.58 31.01 L176.44 30.89 L174.31 30.77 L172.17 30.65 L170.04 30.53 L167.9 30.4 L165.76 30.29 L163.63 30.17 L161.49 30.05 L159.36 29.93 L157.22 29.81 L155.08 29.7 L152.95 29.58 L150.81 29.47 L148.68 29.35 L146.54 29.24 L144.4 29.12 L142.27 29.01 L140.13 28.9 L138 28.79 L135.86 28.68 L133.72 28.57 L131.59 28.46 L129.45 28.35 L127.32 28.24 L125.18 28.13 L123.04 28.02 L120.91 27.92 L118.77 27.81 L116.64 27.71 L114.5 27.6 L112.36 27.5 L110.23 27.39 L108.09 27.29 L105.96 27.18 L103.82 27.08 L101.68 26.98 L99.55 26.88 L97.41 26.78 L95.28 26.68 L93.14 26.58 L91 26.48 L88.87 26.38 L86.73 26.28 L84.6 26.18" stroke="#2a2a2a" stroke-width="0.8" stroke-dasharray="1.8 4.23"/>
<path d="M584.42 462.9 L582.28 138.89 L580.15 124.33 L578.01 115.82 L575.88 109.77 L573.74 105.09 L571.6 101.26 L569.47 98.02 L567.33 95.21 L565.2 92.74 L563.06 90.53 L560.92 88.52 L558.79 86.7 L556.65 85.02 L554.52 83.46 L552.38 82.01 L550.24 80.65 L548.11 79.38 L545.97 78.18 L543.84 77.04 L541.7 75.97 L539.56 74.94 L537.43 73.96 L535.29 73.03 L533.16 72.14 L531.02 71.28 L528.88 70.46 L526.75 69.66 L524.61 68.9 L522.48 68.16 L520.34 67.45 L518.2 66.76 L516.07 66.09 L513.93 65.45 L511.8 64.82 L509.66 64.21 L507.52 63.62 L505.39 63.04 L503.25 62.48 L501.12 61.94 L498.98 61.41 L496.84 60.89 L494.71 60.38 L492.57 59.89 L490.44 59.4 L488.3 58.93 L486.16 58.47 L484.03 58.02 L481.89 57.58 L479.76 57.14 L477.62 56.72 L475.48 56.3 L473.35 55.9 L471.21 55.5 L469.08 55.1 L466.94 54.72 L464.8 54.34 L462.67 53.97 L460.53 53.6 L458.4 53.24 L456.26 52.89 L454.12 52.54 L451.99 52.2 L449.85 51.87 L447.72 51.53 L445.58 51.21 L443.44 50.89 L441.31 50.57 L439.17 50.26 L437.04 49.95 L434.9 49.65 L432.76 49.35 L430.63 49.06 L428.49 48.77 L426.36 48.48 L424.22 48.2 L422.08 47.92 L419.95 47.65 L417.81 47.38 L415.68 47.11 L413.54 46.85 L411.4 46.59 L409.27 46.33 L407.13 46.07 L405 45.82 L402.86 45.57 L400.72 45.33 L398.59 45.09 L396.45 44.85 L394.32 44.61 L392.18 44.37 L390.04 44.14 L387.91 43.91 L385.77 43.68 L383.64 43.46 L381.5 43.24 L379.36 43.02 L377.23 42.8 L375.09 42.58 L372.96 42.37 L370.82 42.16 L368.68 41.95 L366.55 41.74 L364.41 41.54 L362.28 41.34 L360.14 41.13 L358 40.94 L355.87 40.74 L353.73 40.54 L351.6 40.35 L349.46 40.16 L347.32 39.97 L345.19 39.78 L343.05 39.59 L340.92 39.41 L338.78 39.22 L336.64 39.04 L334.51 38.86 L332.37 38.68 L330.24 38.51 L328.1 38.33 L325.96 38.16 L323.83 37.98 L321.69 37.81 L319.56 37.64 L317.42 37.47 L315.28 37.31 L313.15 37.14 L311.01 36.97 L308.88 36.81 L306.74 36.65 L304.6 36.49 L302.47 36.33 L300.33 36.17 L298.2 36.01 L296.06 35.86 L293.92 35.7 L291.79 35.55 L289.65 35.39 L287.52 35.24 L285.38 35.09 L283.24 34.94 L281.11 34.79 L278.97 34.65 L276.84 34.5 L274.7 34.35 L272.56 34.21 L270.43 34.07 L268.29 33.92 L266.16 33.78 L264.02 33.64 L261.88 33.5 L259.75 33.36 L257.61 33.23 L255.48 33.09 L253.34 32.95 L251.2 32.82 L249.07 32.68 L246.93 32.55 L244.8 32.42 L242.66 32.29 L240.52 32.16 L238.39 32.03 L236.25 31.9 L234.12 31.77 L231.98 31.64 L229.84 31.51 L227.71 31.39 L225.57 31.26 L223.44 31.14 L221.3 31.01 L219.16 30.89 L217.03 30.77 L214.89 30.65 L212.76 30.53 L210.62 30.4 L208.48 30.29 L206.35 30.17 L204.21 30.05 L202.08 29.93 L199.94 29.81 L197.8 29.7 L195.67 29.58 L193.53 29.47 L191.4 29.35 L189.26 29.24 L187.12 29.12 L184.99 29.01 L182.85 28.9 L180.72 28.79 L178.58 28.68 L176.44 28.57 L174.31 28.46 L172.17 28.35 L170.04 28.24 L167.9 28.13 L165.76 28.02 L163.63 27.92 L161.49 27.81 L159.36 27.71 L157.22 27.6 L155.08 27.5 L152.95 27.39 L150.81 27.29 L148.68 27.18 L146.54 27.08 L144.4 26.98 L142.27 26.88 L140.13 26.78 L138 26.68 L135.86 26.58 L133.72 26.48 L131.59 26.38 L129.45 26.28 L127.32 26.18" stroke="#2a2a2a" stroke-width="0.8" stroke-dasharray="1.8 4.23"/>
<path d="M627.14 462.9 L625 138.89 L622.87 124.33 L620.73 115.82 L618.6 109.77 L616.46 105.09 L614.32 101.26 L612.19 98.02 L610.05 95.21 L607.92 92.74 L605.78 90.53 L603.64 88.52 L601.51 86.7 L599.37 85.02 L597.24 83.46 L595.1 82.01 L592.96 80.65 L590.83 79.38 L588.69 78.18 L586.56 77.04 L584.42 75.97 L582.28 74.94 L580.15 73.96 L578.01 73.03 L575.88 72.14 L573.74 71.28 L571.6 70.46 L569.47 69.66 L567.33 68.9 L565.2 68.16 L563.06 67.45 L560.92 66.76 L558.79 66.09 L556.65 65.45 L554.52 64.82 L552.38 64.21 L550.24 63.62 L548.11 63.04 L545.97 62.48 L543.84 61.94 L541.7 61.41 L539.56 60.89 L537.43 60.38 L535.29 59.89 L533.16 59.4 L531.02 58.93 L528.88 58.47 L526.75 58.02 L524.61 57.58 L522.48 57.14 L520.34 56.72 L518.2 56.3 L516.07 55.9 L513.93 55.5 L511.8 55.1 L509.66 54.72 L507.52 54.34 L505.39 53.97 L503.25 53.6 L501.12 53.24 L498.98 52.89 L496.84 52.54 L494.71 52.2 L492.57 51.87 L490.44 51.53 L488.3 51.21 L486.16 50.89 L484.03 50.57 L481.89 50.26 L479.76 49.95 L477.62 49.65 L475.48 49.35 L473.35 49.06 L471.21 48.77 L469.08 48.48 L466.94 48.2 L464.8 47.92 L462.67 47.65 L460.53 47.38 L458.4 47.11 L456.26 46.85 L454.12 46.59 L451.99 46.33 L449.85 46.07 L447.72 45.82 L445.58 45.57 L443.44 45.33 L441.31 45.09 L439.17 44.85 L437.04 44.61 L434.9 44.37 L432.76 44.14 L430.63 43.91 L428.49 43.68 L426.36 43.46 L424.22 43.24 L422.08 43.02 L419.95 42.8 L417.81 42.58 L415.68 42.37 L413.54 42.16 L411.4 41.95 L409.27 41.74 L407.13 41.54 L405 41.34 L402.86 41.13 L400.72 40.94 L398.59 40.74 L396.45 40.54 L394.32 40.35 L392.18 40.16 L390.04 39.97 L387.91 39.78 L385.77 39.59 L383.64 39.41 L381.5 39.22 L379.36 39.04 L377.23 38.86 L375.09 38.68 L372.96 38.51 L370.82 38.33 L368.68 38.16 L366.55 37.98 L364.41 37.81 L362.28 37.64 L360.14 37.47 L358 37.31 L355.87 37.14 L353.73 36.97 L351.6 36.81 L349.46 36.65 L347.32 36.49 L345.19 36.33 L343.05 36.17 L340.92 36.01 L338.78 35.86 L336.64 35.7 L334.51 35.55 L332.37 35.39 L330.24 35.24 L328.1 35.09 L325.96 34.94 L323.83 34.79 L321.69 34.65 L319.56 34.5 L317.42 34.35 L315.28 34.21 L313.15 34.07 L311.01 33.92 L308.88 33.78 L306.74 33.64 L304.6 33.5 L302.47 33.36 L300.33 33.23 L298.2 33.09 L296.06 32.95 L293.92 32.82 L291.79 32.68 L289.65 32.55 L287.52 32.42 L285.38 32.29 L283.24 32.16 L281.11 32.03 L278.97 31.9 L276.84 31.77 L274.7 31.64 L272.56 31.51 L270.43 31.39 L268.29 31.26 L266.16 31.14 L264.02 31.01 L261.88 30.89 L259.75 30.77 L257.61 30.65 L255.48 30.53 L253.34 30.4 L251.2 30.29 L249.07 30.17 L246.93 30.05 L244.8 29.93 L242.66 29.81 L240.52 29.7 L238.39 29.58 L236.25 29.47 L234.12 29.35 L231.98 29.24 L229.84 29.12 L227.71 29.01 L225.57 28.9 L223.44 28.79 L221.3 28.68 L219.16 28.57 L217.03 28.46 L214.89 28.35 L212.76 28.24 L210.62 28.13 L208.48 28.02 L206.35 27.92 L204.21 27.81 L202.08 27.71 L199.94 27.6 L197.8 27.5 L195.67 27.39 L193.53 27.29 L191.4 27.18 L189.26 27.08 L187.12 26.98 L184.99 26.88 L182.85 26.78 L180.72 26.68 L178.58 26.58 L176.44 26.48 L174.31 26.38 L172.17 26.28 L170.04 26.18" stroke="#2a2a2a" stroke-width="0.8" stroke-dasharray="1.8 4.23"/>
<path d="M669.86 462.9 L667.72 138.89 L665.59 124.33 L663.45 115.82 L661.32 109.77 L659.18 105.09 L657.04 101.26 L654.91 98.02 L652.77 95.21 L650.64 92.74 L648.5 90.53 L646.36 88.52 L644.23 86.7 L642.09 85.02 L639.96 83.46 L637.82 82.01 L635.68 80.65 L633.55 79.38 L631.41 78.18 L629.28 77.04 L627.14 75.97 L625 74.94 L622.87 73.96 L620.73 73.03 L618.6 72.14 L616.46 71.28 L614.32 70.46 L612.19 69.66 L610.05 68.9 L607.92 68.16 L605.78 67.45 L603.64 66.76 L601.51 66.09 L599.37 65.45 L597.24 64.82 L595.1 64.21 L592.96 63.62 L590.83 63.04 L588.69 62.48 L586.56 61.94 L584.42 61.41 L582.28 60.89 L580.15 60.38 L578.01 59.89 L575.88 59.4 L573.74 58.93 L571.6 58.47 L569.47 58.02 L567.33 57.58 L565.2 57.14 L563.06 56.72 L560.92 56.3 L558.79 55.9 L556.65 55.5 L554.52 55.1 L552.38 54.72 L550.24 54.34 L548.11 53.97 L545.97 53.6 L543.84 53.24 L541.7 52.89 L539.56 52.54 L537.43 52.2 L535.29 51.87 L533.16 51.53 L531.02 51.21 L528.88 50.89 L526.75 50.57 L524.61 50.26 L522.48 49.95 L520.34 49.65 L518.2 49.35 L516.07 49.06 L513.93 48.77 L511.8 48.48 L509.66 48.2 L507.52 47.92 L505.39 47.65 L503.25 47.38 L501.12 47.11 L498.98 46.85 L496.84 46.59 L494.71 46.33 L492.57 46.07 L490.44 45.82 L488.3 45.57 L486.16 45.33 L484.03 45.09 L481.89 44.85 L479.76 44.61 L477.62 44.37 L475.48 44.14 L473.35 43.91 L471.21 43.68 L469.08 43.46 L466.94 43.24 L464.8 43.02 L462.67 42.8 L460.53 42.58 L458.4 42.37 L456.26 42.16 L454.12 41.95 L451.99 41.74 L449.85 41.54 L447.72 41.34 L445.58 41.13 L443.44 40.94 L441.31 40.74 L439.17 40.54 L437.04 40.35 L434.9 40.16 L432.76 39.97 L430.63 39.78 L428.49 39.59 L426.36 39.41 L424.22 39.22 L422.08 39.04 L419.95 38.86 L417.81 38.68 L415.68 38.51 L413.54 38.33 L411.4 38.16 L409.27 37.98 L407.13 37.81 L405 37.64 L402.86 37.47 L400.72 37.31 L398.59 37.14 L396.45 36.97 L394.32 36.81 L392.18 36.65 L390.04 36.49 L387.91 36.33 L385.77 36.17 L383.64 36.01 L381.5 35.86 L379.36 35.7 L377.23 35.55 L375.09 35.39 L372.96 35.24 L370.82 35.09 L368.68 34.94 L366.55 34.79 L364.41 34.65 L362.28 34.5 L360.14 34.35 L358 34.21 L355.87 34.07 L353.73 33.92 L351.6 33.78 L349.46 33.64 L347.32 33.5 L345.19 33.36 L343.05 33.23 L340.92 33.09 L338.78 32.95 L336.64 32.82 L334.51 32.68 L332.37 32.55 L330.24 32.42 L328.1 32.29 L325.96 32.16 L323.83 32.03 L321.69 31.9 L319.56 31.77 L317.42 31.64 L315.28 31.51 L313.15 31.39 L311.01 31.26 L308.88 31.14 L306.74 31.01 L304.6 30.89 L302.47 30.77 L300.33 30.65 L298.2 30.53 L296.06 30.4 L293.92 30.29 L291.79 30.17 L289.65 30.05 L287.52 29.93 L285.38 29.81 L283.24 29.7 L281.11 29.58 L278.97 29.47 L276.84 29.35 L274.7 29.24 L272.56 29.12 L270.43 29.01 L268.29 28.9 L266.16 28.79 L264.02 28.68 L261.88 28.57 L259.75 28.46 L257.61 28.35 L255.48 28.24 L253.34 28.13 L251.2 28.02 L249.07 27.92 L246.93 27.81 L244.8 27.71 L242.66 27.6 L240.52 27.5 L238.39 27.39 L236.25 27.29 L234.12 27.18 L231.98 27.08 L229.84 26.98 L227.71 26.88 L225.57 26.78 L223.44 26.68 L221.3 26.58 L219.16 26.48 L217.03 26.38 L214.89 26.28 L212.76 26.18" stroke="#2a2a2a" stroke-width="0.8" stroke-dasharray="1.8 4.23"/>
<path d="M712.58 462.9 L710.44 138.89 L708.31 124.33 L706.17 115.82 L704.04 109.77 L701.9 105.09 L699.76 101.26 L697.63 98.02 L695.49 95.21 L693.36 92.74 L691.22 90.53 L689.08 88.52 L686.95 86.7 L684.81 85.02 L682.68 83.46 L680.54 82.01 L678.4 80.65 L676.27 79.38 L674.13 78.18 L672 77.04 L669.86 75.97 L667.72 74.94 L665.59 73.96 L663.45 73.03 L661.32 72.14 L659.18 71.28 L657.04 70.46 L654.91 69.66 L652.77 68.9 L650.64 68.16 L648.5 67.45 L646.36 66.76 L644.23 66.09 L642.09 65.45 L639.96 64.82 L637.82 64.21 L635.68 63.62 L633.55 63.04 L631.41 62.48 L629.28 61.94 L627.14 61.41 L625 60.89 L622.87 60.38 L620.73 59.89 L618.6 59.4 L616.46 58.93 L614.32 58.47 L612.19 58.02 L610.05 57.58 L607.92 57.14 L605.78 56.72 L603.64 56.3 L601.51 55.9 L599.37 55.5 L597.24 55.1 L595.1 54.72 L592.96 54.34 L590.83 53.97 L588.69 53.6 L586.56 53.24 L584.42 52.89 L582.28 52.54 L580.15 52.2 L578.01 51.87 L575.88 51.53 L573.74 51.21 L571.6 50.89 L569.47 50.57 L567.33 50.26 L565.2 49.95 L563.06 49.65 L560.92 49.35 L558.79 49.06 L556.65 48.77 L554.52 48.48 L552.38 48.2 L550.24 47.92 L548.11 47.65 L545.97 47.38 L543.84 47.11 L541.7 46.85 L539.56 46.59 L537.43 46.33 L535.29 46.07 L533.16 45.82 L531.02 45.57 L528.88 45.33 L526.75 45.09 L524.61 44.85 L522.48 44.61 L520.34 44.37 L518.2 44.14 L516.07 43.91 L513.93 43.68 L511.8 43.46 L509.66 43.24 L507.52 43.02 L505.39 42.8 L503.25 42.58 L501.12 42.37 L498.98 42.16 L496.84 41.95 L494.71 41.74 L492.57 41.54 L490.44 41.34 L488.3 41.13 L486.16 40.94 L484.03 40.74 L481.89 40.54 L479.76 40.35 L477.62 40.16 L475.48 39.97 L473.35 39.78 L471.21 39.59 L469.08 39.41 L466.94 39.22 L464.8 39.04 L462.67 38.86 L460.53 38.68 L458.4 38.51 L456.26 38.33 L454.12 38.16 L451.99 37.98 L449.85 37.81 L447.72 37.64 L445.58 37.47 L443.44 37.31 L441.31 37.14 L439.17 36.97 L437.04 36.81 L434.9 36.65 L432.76 36.49 L430.63 36.33 L428.49 36.17 L426.36 36.01 L424.22 35.86 L422.08 35.7 L419.95 35.55 L417.81 35.39 L415.68 35.24 L413.54 35.09 L411.4 34.94 L409.27 34.79 L407.13 34.65 L405 34.5 L402.86 34.35 L400.72 34.21 L398.59 34.07 L396.45 33.92 L394.32 33.78 L392.18 33.64 L390.04 33.5 L387.91 33.36 L385.77 33.23 L383.64 33.09 L381.5 32.95 L379.36 32.82 L377.23 32.68 L375.09 32.55 L372.96 32.42 L370.82 32.29 L368.68 32.16 L366.55 32.03 L364.41 31.9 L362.28 31.77 L360.14 31.64 L358 31.51 L355.87 31.39 L353.73 31.26 L351.6 31.14 L349.46 31.01 L347.32 30.89 L345.19 30.77 L343.05 30.65 L340.92 30.53 L338.78 30.4 L336.64 30.29 L334.51 30.17 L332.37 30.05 L330.24 29.93 L328.1 29.81 L325.96 29.7 L323.83 29.58 L321.69 29.47 L319.56 29.35 L317.42 29.24 L315.28 29.12 L313.15 29.01 L311.01 28.9 L308.88 28.79 L306.74 28.68 L304.6 28.57 L302.47 28.46 L300.33 28.35 L298.2 28.24 L296.06 28.13 L293.92 28.02 L291.79 27.92 L289.65 27.81 L287.52 27.71 L285.38 27.6 L283.24 27.5 L281.11 27.39 L278.97 27.29 L276.84 27.18 L274.7 27.08 L272.56 26.98 L270.43 26.88 L268.29 26.78 L266.16 26.68 L264.02 26.58 L261.88 26.48 L259.75 26.38 L257.61 26.28 L255.48 26.18" stroke="#2a2a2a" stroke-width="0.8" stroke-dasharray="1.8 4.23"/>
<path d="M755.3 462.9 L753.16 138.89 L751.03 124.33 L748.89 115.82 L746.76 109.77 L744.62 105.09 L742.48 101.26 L740.35 98.02 L738.21 95.21 L736.08 92.74 L733.94 90.53 L731.8 88.52 L729.67 86.7 L727.53 85.02 L725.4 83.46 L723.26 82.01 L721.12 80.65 L718.99 79.38 L716.85 78.18 L714.72 77.04 L712.58 75.97 L710.44 74.94 L708.31 73.96 L706.17 73.03 L704.04 72.14 L701.9 71.28 L699.76 70.46 L697.63 69.66 L695.49 68.9 L693.36 68.16 L691.22 67.45 L689.08 66.76 L686.95 66.09 L684.81 65.45 L682.68 64.82 L680.54 64.21 L678.4 63.62 L676.27 63.04 L674.13 62.48 L672 61.94 L669.86 61.41 L667.72 60.89 L665.59 60.38 L663.45 59.89 L661.32 59.4 L659.18 58.93 L657.04 58.47 L654.91 58.02 L652.77 57.58 L650.64 57.14 L648.5 56.72 L646.36 56.3 L644.23 55.9 L642.09 55.5 L639.96 55.1 L637.82 54.72 L635.68 54.34 L633.55 53.97 L631.41 53.6 L629.28 53.24 L627.14 52.89 L625 52.54 L622.87 52.2 L620.73 51.87 L618.6 51.53 L616.46 51.21 L614.32 50.89 L612.19 50.57 L610.05 50.26 L607.92 49.95 L605.78 49.65 L603.64 49.35 L601.51 49.06 L599.37 48.77 L597.24 48.48 L595.1 48.2 L592.96 47.92 L590.83 47.65 L588.69 47.38 L586.56 47.11 L584.42 46.85 L582.28 46.59 L580.15 46.33 L578.01 46.07 L575.88 45.82 L573.74 45.57 L571.6 45.33 L569.47 45.09 L567.33 44.85 L565.2 44.61 L563.06 44.37 L560.92 44.14 L558.79 43.91 L556.65 43.68 L554.52 43.46 L552.38 43.24 L550.24 43.02 L548.11 42.8 L545.97 42.58 L543.84 42.37 L541.7 42.16 L539.56 41.95 L537.43 41.74 L535.29 41.54 L533.16 41.34 L531.02 41.13 L528.88 40.94 L526.75 40.74 L524.61 40.54 L522.48 40.35 L520.34 40.16 L518.2 39.97 L516.07 39.78 L513.93 39.59 L511.8 39.41 L509.66 39.22 L507.52 39.04 L505.39 38.86 L503.25 38.68 L501.12 38.51 L498.98 38.33 L496.84 38.16 L494.71 37.98 L492.57 37.81 L490.44 37.64 L488.3 37.47 L486.16 37.31 L484.03 37.14 L481.89 36.97 L479.76 36.81 L477.62 36.65 L475.48 36.49 L473.35 36.33 L471.21 36.17 L469.08 36.01 L466.94 35.86 L464.8 35.7 L462.67 35.55 L460.53 35.39 L458.4 35.24 L456.26 35.09 L454.12 34.94 L451.99 34.79 L449.85 34.65 L447.72 34.5 L445.58 34.35 L443.44 34.21 L441.31 34.07 L439.17 33.92 L437.04 33.78 L434.9 33.64 L432.76 33.5 L430.63 33.36 L428.49 33.23 L426.36 33.09 L424.22 32.95 L422.08 32.82 L419.95 32.68 L417.81 32.55 L415.68 32.42 L413.54 32.29 L411.4 32.16 L409.27 32.03 L407.13 31.9 L405 31.77 L402.86 31.64 L400.72 31.51 L398.59 31.39 L396.45 31.26 L394.32 31.14 L392.18 31.01 L390.04 30.89 L387.91 30.77 L385.77 30.65 L383.64 30.53 L381.5 30.4 L379.36 30.29 L377.23 30.17 L375.09 30.05 L372.96 29.93 L370.82 29.81 L368.68 29.7 L366.55 29.58 L364.41 29.47 L362.28 29.35 L360.14 29.24 L358 29.12 L355.87 29.01 L353.73 28.9 L351.6 28.79 L349.46 28.68 L347.32 28.57 L345.19 28.46 L343.05 28.35 L340.92 28.24 L338.78 28.13 L336.64 28.02 L334.51 27.92 L332.37 27.81 L330.24 27.71 L328.1 27.6 L325.96 27.5 L323.83 27.39 L321.69 27.29 L319.56 27.18 L317.42 27.08 L315.28 26.98 L313.15 26.88 L311.01 26.78 L308.88 26.68 L306.74 26.58 L304.6 26.48 L302.47 26.38 L300.33 26.28 L298.2 26.18" stroke="#2a2a2a" stroke-width="0.8" stroke-dasharray="1.8 4.23"/>
<path d="M328.1 462.9 L325.96 138.89 L323.83 124.33 L321.69 115.82 L319.56 109.77 L317.42 105.09 L315.28 101.26 L313.15 98.02 L311.01 95.21 L308.88 92.74 L306.74 90.53 L304.6 88.52 L302.47 86.7 L300.33 85.02 L298.2 83.46 L296.06 82.01 L293.92 80.65 L291.79 79.38 L289.65 78.18 L287.52 77.04 L285.38 75.97 L283.24 74.94 L281.11 73.96 L278.97 73.03 L276.84 72.14 L274.7 71.28 L272.56 70.46 L270.43 69.66 L268.29 68.9 L266.16 68.16 L264.02 67.45 L261.88 66.76 L259.75 66.09 L257.61 65.45 L255.48 64.82 L253.34 64.21 L251.2 63.62 L249.07 63.04 L246.93 62.48 L244.8 61.94 L242.66 61.41 L240.52 60.89 L238.39 60.38 L236.25 59.89 L234.12 59.4 L231.98 58.93 L229.84 58.47 L227.71 58.02 L225.57 57.58 L223.44 57.14 L221.3 56.72 L219.16 56.3 L217.03 55.9 L214.89 55.5 L212.76 55.1 L210.62 54.72 L208.48 54.34 L206.35 53.97 L204.21 53.6 L202.08 53.24 L199.94 52.89 L197.8 52.54 L195.67 52.2 L193.53 51.87 L191.4 51.53 L189.26 51.21 L187.12 50.89 L184.99 50.57 L182.85 50.26 L180.72 49.95 L178.58 49.65 L176.44 49.35 L174.31 49.06 L172.17 48.77 L170.04 48.48 L167.9 48.2 L165.76 47.92 L163.63 47.65 L161.49 47.38 L159.36 47.11 L157.22 46.85 L155.08 46.59 L152.95 46.33 L150.81 46.07 L148.68 45.82 L146.54 45.57 L144.4 45.33 L142.27 45.09 L140.13 44.85 L138 44.61 L135.86 44.37 L133.72 44.14 L131.59 43.91 L129.45 43.68 L127.32 43.46 L125.18 43.24 L123.04 43.02 L120.91 42.8 L118.77 42.58 L116.64 42.37 L114.5 42.16 L112.36 41.95 L110.23 41.74 L108.09 41.54 L105.96 41.34 L103.82 41.13 L101.68 40.94 L99.55 40.74 L97.41 40.54 L95.28 40.35 L93.14 40.16 L91 39.97 L88.87 39.78 L86.73 39.59 L84.6 39.41 L82.46 39.22 L80.32 39.04 L78.19 38.86 L76.05 38.68 L73.92 38.51 L71.78 38.33 L69.64 38.16 L67.51 37.98 L65.37 37.81 L63.24 37.64 L61.1 37.47 L58.96 37.31 L56.83 37.14 L54.69 36.97 L52.56 36.81 L50.42 36.65 L48.28 36.49 L46.15 36.33 L44.01 36.17 L41.88 36.01 L39.74 35.86 L37.6 35.7 L35.47 35.55 L33.33 35.39 L31.2 35.24 L29.06 35.09 L26.92 34.94 L24.79 34.79 L22.65 34.65 L20.52 34.5 L18.38 34.35 L16.24 34.21 L14.11 34.07 L11.97 33.92 L9.84 33.78 L7.7 33.64 L5.56 33.5 L3.43 33.36 L1.29 33.23 L-0.84 33.09 L-2.98 32.95 L-5.12 32.82 L-7.25 32.68 L-9.39 32.55 L-11.52 32.42 L-13.66 32.29 L-15.8 32.16 L-17.93 32.03 L-20.07 31.9 L-22.2 31.77 L-24.34 31.64 L-26.48 31.51 L-28.61 31.39 L-30.75 31.26 L-32.88 31.14 L-35.02 31.01 L-37.16 30.89 L-39.29 30.77 L-41.43 30.65 L-43.56 30.53 L-45.7 30.4 L-47.84 30.29 L-49.97 30.17 L-52.11 30.05 L-54.24 29.93 L-56.38 29.81 L-58.52 29.7 L-60.65 29.58 L-62.79 29.47 L-64.92 29.35 L-67.06 29.24 L-69.2 29.12 L-71.33 29.01 L-73.47 28.9 L-75.6 28.79 L-77.74 28.68 L-79.88 28.57 L-82.01 28.46 L-84.15 28.35 L-86.28 28.24 L-88.42 28.13 L-90.56 28.02 L-92.69 27.92 L-94.83 27.81 L-96.96 27.71 L-99.1 27.6 L-101.24 27.5 L-103.37 27.39 L-105.51 27.29 L-107.64 27.18 L-109.78 27.08 L-111.92 26.98 L-114.05 26.88 L-116.19 26.78 L-118.32 26.68 L-120.46 26.58 L-122.6 26.48 L-124.73 26.38 L-126.87 26.28 L-129 26.18" stroke="#ff1020" stroke-width="1.75" stroke-linejoin="round"/>
<path d="M328.1 462.9 L330.24 138.89 L332.37 124.33 L334.51 115.82 L336.64 109.77 L338.78 105.09 L340.92 101.26 L343.05 98.02 L345.19 95.21 L347.32 92.74 L349.46 90.53 L351.6 88.52 L353.73 86.7 L355.87 85.02 L358 83.46 L360.14 82.01 L362.28 80.65 L364.41 79.38 L366.55 78.18 L368.68 77.04 L370.82 75.97 L372.96 74.94 L375.09 73.96 L377.23 73.03 L379.36 72.14 L381.5 71.28 L383.64 70.46 L385.77 69.66 L387.91 68.9 L390.04 68.16 L392.18 67.45 L394.32 66.76 L396.45 66.09 L398.59 65.45 L400.72 64.82 L402.86 64.21 L405 63.62 L407.13 63.04 L409.27 62.48 L411.4 61.94 L413.54 61.41 L415.68 60.89 L417.81 60.38 L419.95 59.89 L422.08 59.4 L424.22 58.93 L426.36 58.47 L428.49 58.02 L430.63 57.58 L432.76 57.14 L434.9 56.72 L437.04 56.3 L439.17 55.9 L441.31 55.5 L443.44 55.1 L445.58 54.72 L447.72 54.34 L449.85 53.97 L451.99 53.6 L454.12 53.24 L456.26 52.89 L458.4 52.54 L460.53 52.2 L462.67 51.87 L464.8 51.53 L466.94 51.21 L469.08 50.89 L471.21 50.57 L473.35 50.26 L475.48 49.95 L477.62 49.65 L479.76 49.35 L481.89 49.06 L484.03 48.77 L486.16 48.48 L488.3 48.2 L490.44 47.92 L492.57 47.65 L494.71 47.38 L496.84 47.11 L498.98 46.85 L501.12 46.59 L503.25 46.33 L505.39 46.07 L507.52 45.82 L509.66 45.57 L511.8 45.33 L513.93 45.09 L516.07 44.85 L518.2 44.61 L520.34 44.37 L522.48 44.14 L524.61 43.91 L526.75 43.68 L528.88 43.46 L531.02 43.24 L533.16 43.02 L535.29 42.8 L537.43 42.58 L539.56 42.37 L541.7 42.16 L543.84 41.95 L545.97 41.74 L548.11 41.54 L550.24 41.34 L552.38 41.13 L554.52 40.94 L556.65 40.74 L558.79 40.54 L560.92 40.35 L563.06 40.16 L565.2 39.97 L567.33 39.78 L569.47 39.59 L571.6 39.41 L573.74 39.22 L575.88 39.04 L578.01 38.86 L580.15 38.68 L582.28 38.51 L584.42 38.33 L586.56 38.16 L588.69 37.98 L590.83 37.81 L592.96 37.64 L595.1 37.47 L597.24 37.31 L599.37 37.14 L601.51 36.97 L603.64 36.81 L605.78 36.65 L607.92 36.49 L610.05 36.33 L612.19 36.17 L614.32 36.01 L616.46 35.86 L618.6 35.7 L620.73 35.55 L622.87 35.39 L625 35.24 L627.14 35.09 L629.28 34.94 L631.41 34.79 L633.55 34.65 L635.68 34.5 L637.82 34.35 L639.96 34.21 L642.09 34.07 L644.23 33.92 L646.36 33.78 L648.5 33.64 L650.64 33.5 L652.77 33.36 L654.91 33.23 L657.04 33.09 L659.18 32.95 L661.32 32.82 L663.45 32.68 L665.59 32.55 L667.72 32.42 L669.86 32.29 L672 32.16 L674.13 32.03 L676.27 31.9 L678.4 31.77 L680.54 31.64 L682.68 31.51 L684.81 31.39 L686.95 31.26 L689.08 31.14 L691.22 31.01 L693.36 30.89 L695.49 30.77 L697.63 30.65 L699.76 30.53 L701.9 30.4 L704.04 30.29 L706.17 30.17 L708.31 30.05 L710.44 29.93 L712.58 29.81 L714.72 29.7 L716.85 29.58 L718.99 29.47 L721.12 29.35 L723.26 29.24 L725.4 29.12 L727.53 29.01 L729.67 28.9 L731.8 28.79 L733.94 28.68 L736.08 28.57 L738.21 28.46 L740.35 28.35 L742.48 28.24 L744.62 28.13 L746.76 28.02 L748.89 27.92 L751.03 27.81 L753.16 27.71 L755.3 27.6 L757.44 27.5 L759.57 27.39 L761.71 27.29 L763.84 27.18 L765.98 27.08 L768.12 26.98 L770.25 26.88 L772.39 26.78 L774.52 26.68 L776.66 26.58 L778.8 26.48 L780.93 26.38 L783.07 26.28 L785.2 26.18" stroke="#2ccdd1" stroke-width="1.7" stroke-linejoin="round"/>
<path d="M328.1 27.6 V462.9" stroke="#2ccdd1" stroke-width="1.9"/>
</g>
<g clip-path="url(#pc)">
<circle cx="440.2" cy="183.8" r="1.5" fill="#0a2626"/>
<circle cx="443.9" cy="181.53" r="1.5" fill="#0a2626"/>
<circle cx="447.5" cy="179.32" r="1.5" fill="#0a2626"/>
<circle cx="451.6" cy="176.8" r="1.5" fill="#0a2626"/>
<circle cx="455.8" cy="174.23" r="1.5" fill="#0a2626"/>
<circle cx="460.4" cy="171.4" r="1.5" fill="#0a2626"/>
<circle cx="465" cy="168.58" r="1.5" fill="#0a2626"/>
<circle cx="470.5" cy="165.2" r="1.5" fill="#0a2626"/>
<circle cx="476" cy="161.83" r="1.5" fill="#0a2626"/>
<circle cx="482.4" cy="157.9" r="1.5" fill="#0a2626"/>
<circle cx="407.7" cy="137.2" r="1.5" fill="#006666"/>
<circle cx="409.5" cy="135.94" r="1.5" fill="#006666"/>
<circle cx="411.43" cy="134.59" r="1.5" fill="#006666"/>
<circle cx="413.5" cy="133.13" r="1.5" fill="#006666"/>
<circle cx="415.73" cy="131.57" r="1.5" fill="#006666"/>
<circle cx="418.14" cy="129.88" r="1.5" fill="#006666"/>
<circle cx="420.75" cy="128.05" r="1.5" fill="#006666"/>
<circle cx="423.59" cy="126.06" r="1.5" fill="#006666"/>
<circle cx="426.68" cy="123.89" r="1.5" fill="#006666"/>
<circle cx="430.07" cy="121.51" r="1.5" fill="#006666"/>
<circle cx="433.8" cy="118.9" r="1.5" fill="#006666"/>
<circle cx="392.1" cy="119.6" r="1.5" fill="#009999"/>
<circle cx="393.56" cy="118.56" r="1.5" fill="#009999"/>
<circle cx="395.11" cy="117.45" r="1.5" fill="#009999"/>
<circle cx="396.79" cy="116.28" r="1.5" fill="#009999"/>
<circle cx="398.59" cy="115.03" r="1.5" fill="#009999"/>
<circle cx="400.54" cy="113.73" r="1.5" fill="#009999"/>
<circle cx="402.65" cy="112.36" r="1.5" fill="#009999"/>
<circle cx="404.94" cy="110.93" r="1.5" fill="#009999"/>
<circle cx="407.45" cy="109.45" r="1.5" fill="#009999"/>
<circle cx="410.19" cy="107.88" r="1.5" fill="#009999"/>
<circle cx="413.2" cy="106.2" r="1.5" fill="#009999"/>
<circle cx="382.5" cy="113.2" r="1.5" fill="#00cccc"/>
<circle cx="383.96" cy="112.2" r="1.5" fill="#00cccc"/>
<circle cx="385.51" cy="111.14" r="1.5" fill="#00cccc"/>
<circle cx="387.19" cy="110.01" r="1.5" fill="#00cccc"/>
<circle cx="388.99" cy="108.82" r="1.5" fill="#00cccc"/>
<circle cx="390.94" cy="107.57" r="1.5" fill="#00cccc"/>
<circle cx="393.05" cy="106.26" r="1.5" fill="#00cccc"/>
<circle cx="395.34" cy="104.9" r="1.5" fill="#00cccc"/>
<circle cx="397.85" cy="103.48" r="1.5" fill="#00cccc"/>
<circle cx="400.59" cy="101.99" r="1.5" fill="#00cccc"/>
<circle cx="403.6" cy="100.4" r="1.5" fill="#00cccc"/>
<circle cx="377.4" cy="108.9" r="1.5" fill="#00ffff"/>
<circle cx="378.82" cy="107.95" r="1.5" fill="#00ffff"/>
<circle cx="380.34" cy="106.94" r="1.5" fill="#00ffff"/>
<circle cx="381.98" cy="105.86" r="1.5" fill="#00ffff"/>
<circle cx="383.74" cy="104.73" r="1.5" fill="#00ffff"/>
<circle cx="385.64" cy="103.55" r="1.5" fill="#00ffff"/>
<circle cx="387.7" cy="102.31" r="1.5" fill="#00ffff"/>
<circle cx="389.94" cy="101.03" r="1.5" fill="#00ffff"/>
<circle cx="392.38" cy="99.69" r="1.5" fill="#00ffff"/>
<circle cx="395.06" cy="98.29" r="1.5" fill="#00ffff"/>
<circle cx="398" cy="96.8" r="1.5" fill="#00ffff"/>
<circle cx="374.7" cy="106.4" r="1.5" fill="#00ccff"/>
<circle cx="376.11" cy="105.48" r="1.5" fill="#00ccff"/>
<circle cx="377.63" cy="104.51" r="1.5" fill="#00ccff"/>
<circle cx="379.26" cy="103.48" r="1.5" fill="#00ccff"/>
<circle cx="381.01" cy="102.39" r="1.5" fill="#00ccff"/>
<circle cx="382.9" cy="101.25" r="1.5" fill="#00ccff"/>
<circle cx="384.95" cy="100.06" r="1.5" fill="#00ccff"/>
<circle cx="387.18" cy="98.83" r="1.5" fill="#00ccff"/>
<circle cx="389.61" cy="97.56" r="1.5" fill="#00ccff"/>
<circle cx="392.27" cy="96.22" r="1.5" fill="#00ccff"/>
<circle cx="395.2" cy="94.8" r="1.5" fill="#00ccff"/>
<circle cx="372.88" cy="104.64" r="1.5" fill="#0099ff"/>
<circle cx="374.28" cy="103.75" r="1.5" fill="#0099ff"/>
<circle cx="375.78" cy="102.8" r="1.5" fill="#0099ff"/>
<circle cx="377.39" cy="101.8" r="1.5" fill="#0099ff"/>
<circle cx="379.12" cy="100.74" r="1.5" fill="#0099ff"/>
<circle cx="380.99" cy="99.63" r="1.5" fill="#0099ff"/>
<circle cx="383.02" cy="98.48" r="1.5" fill="#0099ff"/>
<circle cx="385.23" cy="97.29" r="1.5" fill="#0099ff"/>
<circle cx="387.63" cy="96.05" r="1.5" fill="#0099ff"/>
<circle cx="390.26" cy="94.77" r="1.5" fill="#0099ff"/>
<circle cx="393.16" cy="93.39" r="1.5" fill="#0099ff"/>
<circle cx="371.52" cy="103.33" r="1.5" fill="#0066ff"/>
<circle cx="372.91" cy="102.45" r="1.5" fill="#0066ff"/>
<circle cx="374.39" cy="101.52" r="1.5" fill="#0066ff"/>
<circle cx="375.99" cy="100.54" r="1.5" fill="#0066ff"/>
<circle cx="377.71" cy="99.5" r="1.5" fill="#0066ff"/>
<circle cx="379.56" cy="98.42" r="1.5" fill="#0066ff"/>
<circle cx="381.57" cy="97.29" r="1.5" fill="#0066ff"/>
<circle cx="383.76" cy="96.13" r="1.5" fill="#0066ff"/>
<circle cx="386.14" cy="94.93" r="1.5" fill="#0066ff"/>
<circle cx="388.76" cy="93.67" r="1.5" fill="#0066ff"/>
<circle cx="391.63" cy="92.34" r="1.5" fill="#0066ff"/>
<circle cx="370.46" cy="102.3" r="1.5" fill="#0033ff"/>
<circle cx="371.84" cy="101.44" r="1.5" fill="#0033ff"/>
<circle cx="373.32" cy="100.53" r="1.5" fill="#0033ff"/>
<circle cx="374.9" cy="99.56" r="1.5" fill="#0033ff"/>
<circle cx="376.61" cy="98.54" r="1.5" fill="#0033ff"/>
<circle cx="378.45" cy="97.48" r="1.5" fill="#0033ff"/>
<circle cx="380.45" cy="96.37" r="1.5" fill="#0033ff"/>
<circle cx="382.62" cy="95.23" r="1.5" fill="#0033ff"/>
<circle cx="384.99" cy="94.05" r="1.5" fill="#0033ff"/>
<circle cx="387.58" cy="92.82" r="1.5" fill="#0033ff"/>
<circle cx="390.44" cy="91.51" r="1.5" fill="#0033ff"/>
<circle cx="369.61" cy="101.49" r="1.5" fill="#0000ff"/>
<circle cx="370.98" cy="100.64" r="1.5" fill="#0000ff"/>
<circle cx="372.45" cy="99.73" r="1.5" fill="#0000ff"/>
<circle cx="374.03" cy="98.78" r="1.5" fill="#0000ff"/>
<circle cx="375.73" cy="97.77" r="1.5" fill="#0000ff"/>
<circle cx="377.56" cy="96.72" r="1.5" fill="#0000ff"/>
<circle cx="379.55" cy="95.63" r="1.5" fill="#0000ff"/>
<circle cx="381.71" cy="94.51" r="1.5" fill="#0000ff"/>
<circle cx="384.07" cy="93.35" r="1.5" fill="#0000ff"/>
<circle cx="386.65" cy="92.14" r="1.5" fill="#0000ff"/>
<circle cx="389.49" cy="90.86" r="1.5" fill="#0000ff"/>
<circle cx="368.92" cy="100.82" r="1.5" fill="#3300ff"/>
<circle cx="370.29" cy="99.98" r="1.5" fill="#3300ff"/>
<circle cx="371.75" cy="99.08" r="1.5" fill="#3300ff"/>
<circle cx="373.32" cy="98.14" r="1.5" fill="#3300ff"/>
<circle cx="375.01" cy="97.14" r="1.5" fill="#3300ff"/>
<circle cx="376.84" cy="96.1" r="1.5" fill="#3300ff"/>
<circle cx="378.81" cy="95.03" r="1.5" fill="#3300ff"/>
<circle cx="380.96" cy="93.92" r="1.5" fill="#3300ff"/>
<circle cx="383.31" cy="92.77" r="1.5" fill="#3300ff"/>
<circle cx="385.88" cy="91.58" r="1.5" fill="#3300ff"/>
<circle cx="388.71" cy="90.32" r="1.5" fill="#3300ff"/>
<circle cx="368.34" cy="100.26" r="1.5" fill="#6600ff"/>
<circle cx="369.7" cy="99.42" r="1.5" fill="#6600ff"/>
<circle cx="371.16" cy="98.54" r="1.5" fill="#6600ff"/>
<circle cx="372.72" cy="97.6" r="1.5" fill="#6600ff"/>
<circle cx="374.41" cy="96.62" r="1.5" fill="#6600ff"/>
<circle cx="376.23" cy="95.59" r="1.5" fill="#6600ff"/>
<circle cx="378.2" cy="94.52" r="1.5" fill="#6600ff"/>
<circle cx="380.34" cy="93.43" r="1.5" fill="#6600ff"/>
<circle cx="382.68" cy="92.3" r="1.5" fill="#6600ff"/>
<circle cx="385.24" cy="91.12" r="1.5" fill="#6600ff"/>
<circle cx="388.06" cy="89.87" r="1.5" fill="#6600ff"/>
<circle cx="367.85" cy="99.78" r="1.5" fill="#9900ff"/>
<circle cx="369.21" cy="98.96" r="1.5" fill="#9900ff"/>
<circle cx="370.66" cy="98.08" r="1.5" fill="#9900ff"/>
<circle cx="372.22" cy="97.15" r="1.5" fill="#9900ff"/>
<circle cx="373.9" cy="96.17" r="1.5" fill="#9900ff"/>
<circle cx="375.72" cy="95.15" r="1.5" fill="#9900ff"/>
<circle cx="377.68" cy="94.1" r="1.5" fill="#9900ff"/>
<circle cx="379.82" cy="93.01" r="1.5" fill="#9900ff"/>
<circle cx="382.15" cy="91.89" r="1.5" fill="#9900ff"/>
<circle cx="384.7" cy="90.73" r="1.5" fill="#9900ff"/>
<circle cx="387.51" cy="89.49" r="1.5" fill="#9900ff"/>
<circle cx="367.43" cy="99.38" r="1.5" fill="#cc00ff"/>
<circle cx="368.79" cy="98.56" r="1.5" fill="#cc00ff"/>
<circle cx="370.23" cy="97.69" r="1.5" fill="#cc00ff"/>
<circle cx="371.79" cy="96.76" r="1.5" fill="#cc00ff"/>
<circle cx="373.47" cy="95.79" r="1.5" fill="#cc00ff"/>
<circle cx="375.28" cy="94.78" r="1.5" fill="#cc00ff"/>
<circle cx="377.24" cy="93.73" r="1.5" fill="#cc00ff"/>
<circle cx="379.37" cy="92.65" r="1.5" fill="#cc00ff"/>
<circle cx="381.69" cy="91.54" r="1.5" fill="#cc00ff"/>
<circle cx="384.24" cy="90.39" r="1.5" fill="#cc00ff"/>
<circle cx="387.04" cy="89.17" r="1.5" fill="#cc00ff"/>
<circle cx="367.07" cy="99.03" r="1.5" fill="#ff00ff"/>
<circle cx="368.42" cy="98.21" r="1.5" fill="#ff00ff"/>
<circle cx="369.87" cy="97.35" r="1.5" fill="#ff00ff"/>
<circle cx="371.42" cy="96.43" r="1.5" fill="#ff00ff"/>
<circle cx="373.09" cy="95.46" r="1.5" fill="#ff00ff"/>
<circle cx="374.89" cy="94.46" r="1.5" fill="#ff00ff"/>
<circle cx="376.85" cy="93.42" r="1.5" fill="#ff00ff"/>
<circle cx="378.98" cy="92.35" r="1.5" fill="#ff00ff"/>
<circle cx="381.29" cy="91.24" r="1.5" fill="#ff00ff"/>
<circle cx="383.83" cy="90.1" r="1.5" fill="#ff00ff"/>
<circle cx="386.63" cy="88.89" r="1.5" fill="#ff00ff"/>
<circle cx="366.75" cy="98.72" r="1.5" fill="#ff00cc"/>
<circle cx="368.1" cy="97.91" r="1.5" fill="#ff00cc"/>
<circle cx="369.54" cy="97.05" r="1.5" fill="#ff00cc"/>
<circle cx="371.09" cy="96.13" r="1.5" fill="#ff00cc"/>
<circle cx="372.76" cy="95.17" r="1.5" fill="#ff00cc"/>
<circle cx="374.56" cy="94.18" r="1.5" fill="#ff00cc"/>
<circle cx="376.51" cy="93.14" r="1.5" fill="#ff00cc"/>
<circle cx="378.63" cy="92.08" r="1.5" fill="#ff00cc"/>
<circle cx="380.95" cy="90.98" r="1.5" fill="#ff00cc"/>
<circle cx="383.48" cy="89.85" r="1.5" fill="#ff00cc"/>
<circle cx="386.27" cy="88.64" r="1.5" fill="#ff00cc"/>
<circle cx="366.47" cy="98.45" r="1.5" fill="#ff0099"/>
<circle cx="367.82" cy="97.64" r="1.5" fill="#ff0099"/>
<circle cx="369.26" cy="96.78" r="1.5" fill="#ff0099"/>
<circle cx="370.8" cy="95.87" r="1.5" fill="#ff0099"/>
<circle cx="372.47" cy="94.92" r="1.5" fill="#ff0099"/>
<circle cx="374.27" cy="93.93" r="1.5" fill="#ff0099"/>
<circle cx="376.21" cy="92.9" r="1.5" fill="#ff0099"/>
<circle cx="378.33" cy="91.84" r="1.5" fill="#ff0099"/>
<circle cx="380.64" cy="90.75" r="1.5" fill="#ff0099"/>
<circle cx="383.17" cy="89.62" r="1.5" fill="#ff0099"/>
<circle cx="385.96" cy="88.42" r="1.5" fill="#ff0099"/>
<circle cx="366.22" cy="98.21" r="1.5" fill="#ff0066"/>
<circle cx="367.57" cy="97.41" r="1.5" fill="#ff0066"/>
<circle cx="369" cy="96.55" r="1.5" fill="#ff0066"/>
<circle cx="370.55" cy="95.64" r="1.5" fill="#ff0066"/>
<circle cx="372.21" cy="94.69" r="1.5" fill="#ff0066"/>
<circle cx="374" cy="93.7" r="1.5" fill="#ff0066"/>
<circle cx="375.95" cy="92.68" r="1.5" fill="#ff0066"/>
<circle cx="378.06" cy="91.63" r="1.5" fill="#ff0066"/>
<circle cx="380.37" cy="90.54" r="1.5" fill="#ff0066"/>
<circle cx="382.9" cy="89.42" r="1.5" fill="#ff0066"/>
<circle cx="385.68" cy="88.23" r="1.5" fill="#ff0066"/>
<circle cx="366" cy="97.99" r="1.5" fill="#ff0033"/>
<circle cx="367.34" cy="97.19" r="1.5" fill="#ff0033"/>
<circle cx="368.78" cy="96.34" r="1.5" fill="#ff0033"/>
<circle cx="370.32" cy="95.44" r="1.5" fill="#ff0033"/>
<circle cx="371.98" cy="94.49" r="1.5" fill="#ff0033"/>
<circle cx="373.77" cy="93.51" r="1.5" fill="#ff0033"/>
<circle cx="375.71" cy="92.48" r="1.5" fill="#ff0033"/>
<circle cx="377.82" cy="91.44" r="1.5" fill="#ff0033"/>
<circle cx="380.13" cy="90.36" r="1.5" fill="#ff0033"/>
<circle cx="382.65" cy="89.24" r="1.5" fill="#ff0033"/>
<circle cx="385.43" cy="88.06" r="1.5" fill="#ff0033"/>
<circle cx="365.8" cy="97.8" r="1.5" fill="#ff0000"/>
<circle cx="367.14" cy="97" r="1.5" fill="#ff0000"/>
<circle cx="368.57" cy="96.15" r="1.5" fill="#ff0000"/>
<circle cx="370.11" cy="95.25" r="1.5" fill="#ff0000"/>
<circle cx="371.77" cy="94.31" r="1.5" fill="#ff0000"/>
<circle cx="373.56" cy="93.33" r="1.5" fill="#ff0000"/>
<circle cx="375.5" cy="92.31" r="1.5" fill="#ff0000"/>
<circle cx="377.61" cy="91.27" r="1.5" fill="#ff0000"/>
<circle cx="379.91" cy="90.19" r="1.5" fill="#ff0000"/>
<circle cx="382.43" cy="89.08" r="1.5" fill="#ff0000"/>
<circle cx="385.2" cy="87.9" r="1.5" fill="#ff0000"/>
<circle cx="487.7" cy="461.3" r="1.45" fill="#050808"/>
<circle cx="494.9" cy="457.7" r="1.45" fill="#050808"/>
<circle cx="502.4" cy="454.1" r="1.45" fill="#050808"/>
<circle cx="510.6" cy="450.2" r="1.45" fill="#050808"/>
<circle cx="519.5" cy="446.3" r="1.45" fill="#050808"/>
<circle cx="529.6" cy="441.9" r="1.45" fill="#050808"/>
<circle cx="541.2" cy="437.4" r="1.45" fill="#050808"/>
<rect x="469.3" y="27.6" width="2.6" height="55.04" fill="#ff0018"/>
<rect x="469.3" y="428.25" width="2.6" height="2.3" rx="0.7" fill="#ff0018"/>
<rect x="469.3" y="396.45" width="2.6" height="2.3" rx="0.7" fill="#ff0018"/>
<rect x="469.3" y="370.85" width="2.6" height="2.3" rx="0.7" fill="#ff0018"/>
<rect x="469.3" y="350.15" width="2.6" height="2.3" rx="0.7" fill="#ff0018"/>
<rect x="469.3" y="331.65" width="2.6" height="2.3" rx="0.7" fill="#ff0018"/>
<rect x="469.3" y="316.15" width="2.6" height="2.3" rx="0.7" fill="#ff0018"/>
<rect x="469.3" y="301.65" width="2.6" height="2.3" rx="0.7" fill="#ff0018"/>
<rect x="469.3" y="289.25" width="2.6" height="2.3" rx="0.7" fill="#ff0018"/>
<rect x="469.3" y="277.35" width="2.6" height="2.3" rx="0.7" fill="#ff0018"/>
<rect x="469.3" y="267.65" width="2.6" height="2.3" rx="0.7" fill="#ff0018"/>
<rect x="469.3" y="257.55" width="2.6" height="2.3" rx="0.7" fill="#ff0018"/>
<rect x="469.3" y="248.75" width="2.6" height="2.3" rx="0.7" fill="#ff0018"/>
<rect x="469.3" y="241.25" width="2.6" height="2.3" rx="0.7" fill="#ff0018"/>
<rect x="469.3" y="233.25" width="2.6" height="2.3" rx="0.7" fill="#ff0018"/>
<rect x="469.3" y="225.82" width="2.6" height="2.3" rx="0.7" fill="#ff0018"/>
<rect x="469.3" y="218.81" width="2.6" height="2.3" rx="0.7" fill="#ff0018"/>
<rect x="469.3" y="212.18" width="2.6" height="2.3" rx="0.7" fill="#ff0018"/>
<rect x="469.3" y="205.87" width="2.6" height="2.3" rx="0.7" fill="#ff0018"/>
<rect x="469.3" y="199.88" width="2.6" height="2.3" rx="0.7" fill="#ff0018"/>
<rect x="469.3" y="194.15" width="2.6" height="2.3" rx="0.7" fill="#ff0018"/>
<rect x="469.3" y="188.68" width="2.6" height="2.3" rx="0.7" fill="#ff0018"/>
<rect x="469.3" y="183.43" width="2.6" height="2.3" rx="0.7" fill="#ff0018"/>
<rect x="469.3" y="178.4" width="2.6" height="2.3" rx="0.7" fill="#ff0018"/>
<rect x="469.3" y="173.56" width="2.6" height="2.3" rx="0.7" fill="#ff0018"/>
<rect x="469.3" y="168.9" width="2.6" height="2.3" rx="0.7" fill="#ff0018"/>
<rect x="469.3" y="164.41" width="2.6" height="2.3" rx="0.7" fill="#ff0018"/>
<rect x="469.3" y="160.07" width="2.6" height="2.3" rx="0.7" fill="#ff0018"/>
<rect x="469.3" y="155.88" width="2.6" height="2.3" rx="0.7" fill="#ff0018"/>
<rect x="469.3" y="151.82" width="2.6" height="2.3" rx="0.7" fill="#ff0018"/>
<rect x="469.3" y="147.88" width="2.6" height="2.3" rx="0.7" fill="#ff0018"/>
<rect x="469.3" y="144.07" width="2.6" height="2.3" rx="0.7" fill="#ff0018"/>
<rect x="469.3" y="140.37" width="2.6" height="2.3" rx="0.7" fill="#ff0018"/>
<rect x="469.3" y="136.77" width="2.6" height="2.3" rx="0.7" fill="#ff0018"/>
<rect x="469.3" y="133.28" width="2.6" height="2.3" rx="0.7" fill="#ff0018"/>
<rect x="469.3" y="129.88" width="2.6" height="2.3" rx="0.7" fill="#ff0018"/>
<rect x="469.3" y="126.56" width="2.6" height="2.3" rx="0.7" fill="#ff0018"/>
<rect x="469.3" y="123.34" width="2.6" height="2.3" rx="0.7" fill="#ff0018"/>
<rect x="469.3" y="120.19" width="2.6" height="2.3" rx="0.7" fill="#ff0018"/>
<rect x="469.3" y="117.12" width="2.6" height="2.3" rx="0.7" fill="#ff0018"/>
<rect x="469.3" y="114.12" width="2.6" height="2.3" rx="0.7" fill="#ff0018"/>
<rect x="469.3" y="111.19" width="2.6" height="2.3" rx="0.7" fill="#ff0018"/>
<rect x="469.3" y="108.33" width="2.6" height="2.3" rx="0.7" fill="#ff0018"/>
<rect x="469.3" y="105.53" width="2.6" height="2.3" rx="0.7" fill="#ff0018"/>
<rect x="469.3" y="102.79" width="2.6" height="2.3" rx="0.7" fill="#ff0018"/>
<rect x="469.3" y="100.11" width="2.6" height="2.3" rx="0.7" fill="#ff0018"/>
<rect x="469.3" y="97.48" width="2.6" height="2.3" rx="0.7" fill="#ff0018"/>
<rect x="469.3" y="94.91" width="2.6" height="2.3" rx="0.7" fill="#ff0018"/>
<rect x="469.3" y="92.39" width="2.6" height="2.3" rx="0.7" fill="#ff0018"/>
<rect x="469.3" y="89.92" width="2.6" height="2.3" rx="0.7" fill="#ff0018"/>
<rect x="469.3" y="87.49" width="2.6" height="2.3" rx="0.7" fill="#ff0018"/>
<rect x="469.3" y="85.12" width="2.6" height="2.3" rx="0.7" fill="#ff0018"/>
<rect x="469.3" y="82.78" width="2.6" height="2.3" rx="0.7" fill="#ff0018"/>
<rect x="469.3" y="80.49" width="2.6" height="2.3" rx="0.7" fill="#ff0018"/>
<rect x="540.4" y="27.6" width="2.6" height="53.58" fill="#ff0018"/>
<rect x="540.4" y="436.15" width="2.6" height="2.3" rx="0.7" fill="#ff0018"/>
<rect x="540.4" y="394.25" width="2.6" height="2.3" rx="0.7" fill="#ff0018"/>
<rect x="540.4" y="362.05" width="2.6" height="2.3" rx="0.7" fill="#ff0018"/>
<rect x="540.4" y="336.95" width="2.6" height="2.3" rx="0.7" fill="#ff0018"/>
<rect x="540.4" y="316.15" width="2.6" height="2.3" rx="0.7" fill="#ff0018"/>
<rect x="540.4" y="298.15" width="2.6" height="2.3" rx="0.7" fill="#ff0018"/>
<rect x="540.4" y="281.75" width="2.6" height="2.3" rx="0.7" fill="#ff0018"/>
<rect x="540.4" y="268.55" width="2.6" height="2.3" rx="0.7" fill="#ff0018"/>
<rect x="540.4" y="255.35" width="2.6" height="2.3" rx="0.7" fill="#ff0018"/>
<rect x="540.4" y="244.25" width="2.6" height="2.3" rx="0.7" fill="#ff0018"/>
<rect x="540.4" y="233.25" width="2.6" height="2.3" rx="0.7" fill="#ff0018"/>
<rect x="540.4" y="222.21" width="2.6" height="2.3" rx="0.7" fill="#ff0018"/>
<rect x="540.4" y="212.3" width="2.6" height="2.3" rx="0.7" fill="#ff0018"/>
<rect x="540.4" y="203.32" width="2.6" height="2.3" rx="0.7" fill="#ff0018"/>
<rect x="540.4" y="195.1" width="2.6" height="2.3" rx="0.7" fill="#ff0018"/>
<rect x="540.4" y="187.51" width="2.6" height="2.3" rx="0.7" fill="#ff0018"/>
<rect x="540.4" y="180.47" width="2.6" height="2.3" rx="0.7" fill="#ff0018"/>
<rect x="540.4" y="173.9" width="2.6" height="2.3" rx="0.7" fill="#ff0018"/>
<rect x="540.4" y="167.75" width="2.6" height="2.3" rx="0.7" fill="#ff0018"/>
<rect x="540.4" y="161.95" width="2.6" height="2.3" rx="0.7" fill="#ff0018"/>
<rect x="540.4" y="156.48" width="2.6" height="2.3" rx="0.7" fill="#ff0018"/>
<rect x="540.4" y="151.29" width="2.6" height="2.3" rx="0.7" fill="#ff0018"/>
<rect x="540.4" y="146.36" width="2.6" height="2.3" rx="0.7" fill="#ff0018"/>
<rect x="540.4" y="141.67" width="2.6" height="2.3" rx="0.7" fill="#ff0018"/>
<rect x="540.4" y="137.19" width="2.6" height="2.3" rx="0.7" fill="#ff0018"/>
<rect x="540.4" y="132.9" width="2.6" height="2.3" rx="0.7" fill="#ff0018"/>
<rect x="540.4" y="128.78" width="2.6" height="2.3" rx="0.7" fill="#ff0018"/>
<rect x="540.4" y="124.84" width="2.6" height="2.3" rx="0.7" fill="#ff0018"/>
<rect x="540.4" y="121.04" width="2.6" height="2.3" rx="0.7" fill="#ff0018"/>
<rect x="540.4" y="117.38" width="2.6" height="2.3" rx="0.7" fill="#ff0018"/>
<rect x="540.4" y="113.85" width="2.6" height="2.3" rx="0.7" fill="#ff0018"/>
<rect x="540.4" y="110.44" width="2.6" height="2.3" rx="0.7" fill="#ff0018"/>
<rect x="540.4" y="107.14" width="2.6" height="2.3" rx="0.7" fill="#ff0018"/>
<rect x="540.4" y="103.95" width="2.6" height="2.3" rx="0.7" fill="#ff0018"/>
<rect x="540.4" y="100.86" width="2.6" height="2.3" rx="0.7" fill="#ff0018"/>
<rect x="540.4" y="97.86" width="2.6" height="2.3" rx="0.7" fill="#ff0018"/>
<rect x="540.4" y="94.95" width="2.6" height="2.3" rx="0.7" fill="#ff0018"/>
<rect x="540.4" y="92.12" width="2.6" height="2.3" rx="0.7" fill="#ff0018"/>
<rect x="540.4" y="89.36" width="2.6" height="2.3" rx="0.7" fill="#ff0018"/>
<rect x="540.4" y="86.68" width="2.6" height="2.3" rx="0.7" fill="#ff0018"/>
<rect x="540.4" y="84.07" width="2.6" height="2.3" rx="0.7" fill="#ff0018"/>
<rect x="540.4" y="81.53" width="2.6" height="2.3" rx="0.7" fill="#ff0018"/>
<rect x="540.4" y="79.03" width="2.6" height="2.3" rx="0.7" fill="#ff0018"/>
</g>
<rect x="114.5" y="27.6" width="534" height="435.3" stroke="#111" stroke-width="1.2" fill="none"/>
<rect x="702" y="27.6" width="23.2" height="435.3" fill="url(#cb)" stroke="#111" stroke-width="0.8"/>
<path d="M702 27.6 h4.4 M725.2 27.6 h-4.4 M702 63.88 h2.6 M725.2 63.88 h-2.6 M702 100.15 h4.4 M725.2 100.15 h-4.4 M702 136.42 h2.6 M725.2 136.42 h-2.6 M702 172.7 h4.4 M725.2 172.7 h-4.4 M702 208.97 h2.6 M725.2 208.97 h-2.6 M702 245.25 h4.4 M725.2 245.25 h-4.4 M702 281.52 h2.6 M725.2 281.52 h-2.6 M702 317.8 h4.4 M725.2 317.8 h-4.4 M702 354.07 h2.6 M725.2 354.07 h-2.6 M702 390.35 h4.4 M725.2 390.35 h-4.4 M702 426.62 h2.6 M725.2 426.62 h-2.6 M702 462.9 h4.4 M725.2 462.9 h-4.4" stroke="#000" stroke-width="1" fill="none"/>
<path d="M85.21 486.73 L96.95 486.73 M105.42 478.91 L103.47 479.56 L102.16 481.52 L101.51 484.78 L101.51 486.73 L102.16 489.99 L103.47 491.95 L105.42 492.6 L106.73 492.6 L108.68 491.95 L109.99 489.99 L110.64 486.73 L110.64 484.78 L109.99 481.52 L108.68 479.56 L106.73 478.91 L105.42 478.91 M115.86 491.3 L115.2 491.95 L115.86 492.6 L116.51 491.95 L115.86 491.3 M123.03 481.52 L124.33 480.86 L126.29 478.91 L126.29 492.6 M138.02 478.91 L136.07 479.56 L134.76 481.52 L134.11 484.78 L134.11 486.73 L134.76 489.99 L136.07 491.95 L138.02 492.6 L139.33 492.6 L141.28 491.95 L142.59 489.99 L143.24 486.73 L143.24 484.78 L142.59 481.52 L141.28 479.56 L139.33 478.91 L138.02 478.91 M192.01 486.73 L203.75 486.73 M212.22 478.91 L210.27 479.56 L208.96 481.52 L208.31 484.78 L208.31 486.73 L208.96 489.99 L210.27 491.95 L212.22 492.6 L213.53 492.6 L215.48 491.95 L216.79 489.99 L217.44 486.73 L217.44 484.78 L216.79 481.52 L215.48 479.56 L213.53 478.91 L212.22 478.91 M222.66 491.3 L222 491.95 L222.66 492.6 L223.31 491.95 L222.66 491.3 M231.78 478.91 L229.83 479.56 L228.52 481.52 L227.87 484.78 L227.87 486.73 L228.52 489.99 L229.83 491.95 L231.78 492.6 L233.09 492.6 L235.04 491.95 L236.35 489.99 L237 486.73 L237 484.78 L236.35 481.52 L235.04 479.56 L233.09 478.91 L231.78 478.91 M248.74 478.91 L242.22 478.91 L241.56 484.78 L242.22 484.12 L244.17 483.47 L246.13 483.47 L248.08 484.12 L249.39 485.43 L250.04 487.38 L250.04 488.69 L249.39 490.64 L248.08 491.95 L246.13 492.6 L244.17 492.6 L242.22 491.95 L241.56 491.3 L240.91 489.99 M310.55 478.91 L308.59 479.56 L307.29 481.52 L306.64 484.78 L306.64 486.73 L307.29 489.99 L308.59 491.95 L310.55 492.6 L311.85 492.6 L313.81 491.95 L315.11 489.99 L315.76 486.73 L315.76 484.78 L315.11 481.52 L313.81 479.56 L311.85 478.91 L310.55 478.91 M320.98 491.3 L320.33 491.95 L320.98 492.6 L321.63 491.95 L320.98 491.3 M330.11 478.91 L328.15 479.56 L326.85 481.52 L326.2 484.78 L326.2 486.73 L326.85 489.99 L328.15 491.95 L330.11 492.6 L331.41 492.6 L333.37 491.95 L334.67 489.99 L335.32 486.73 L335.32 484.78 L334.67 481.52 L333.37 479.56 L331.41 478.91 L330.11 478.91 M343.15 478.91 L341.19 479.56 L339.89 481.52 L339.24 484.78 L339.24 486.73 L339.89 489.99 L341.19 491.95 L343.15 492.6 L344.45 492.6 L346.41 491.95 L347.71 489.99 L348.36 486.73 L348.36 484.78 L347.71 481.52 L346.41 479.56 L344.45 478.91 L343.15 478.91 M417.35 478.91 L415.39 479.56 L414.09 481.52 L413.44 484.78 L413.44 486.73 L414.09 489.99 L415.39 491.95 L417.35 492.6 L418.65 492.6 L420.61 491.95 L421.91 489.99 L422.56 486.73 L422.56 484.78 L421.91 481.52 L420.61 479.56 L418.65 478.91 L417.35 478.91 M427.78 491.3 L427.13 491.95 L427.78 492.6 L428.43 491.95 L427.78 491.3 M436.91 478.91 L434.95 479.56 L433.65 481.52 L433 484.78 L433 486.73 L433.65 489.99 L434.95 491.95 L436.91 492.6 L438.21 492.6 L440.17 491.95 L441.47 489.99 L442.12 486.73 L442.12 484.78 L441.47 481.52 L440.17 479.56 L438.21 478.91 L436.91 478.91 M453.86 478.91 L447.34 478.91 L446.69 484.78 L447.34 484.12 L449.3 483.47 L451.25 483.47 L453.21 484.12 L454.51 485.43 L455.16 487.38 L455.16 488.69 L454.51 490.64 L453.21 491.95 L451.25 492.6 L449.3 492.6 L447.34 491.95 L446.69 491.3 L446.04 489.99 M524.15 478.91 L522.19 479.56 L520.89 481.52 L520.24 484.78 L520.24 486.73 L520.89 489.99 L522.19 491.95 L524.15 492.6 L525.45 492.6 L527.41 491.95 L528.71 489.99 L529.36 486.73 L529.36 484.78 L528.71 481.52 L527.41 479.56 L525.45 478.91 L524.15 478.91 M534.58 491.3 L533.93 491.95 L534.58 492.6 L535.23 491.95 L534.58 491.3 M541.75 481.52 L543.06 480.86 L545.01 478.91 L545.01 492.6 M556.75 478.91 L554.79 479.56 L553.49 481.52 L552.84 484.78 L552.84 486.73 L553.49 489.99 L554.79 491.95 L556.75 492.6 L558.05 492.6 L560.01 491.95 L561.31 489.99 L561.96 486.73 L561.96 484.78 L561.31 481.52 L560.01 479.56 L558.05 478.91 L556.75 478.91 M630.95 478.91 L628.99 479.56 L627.69 481.52 L627.04 484.78 L627.04 486.73 L627.69 489.99 L628.99 491.95 L630.95 492.6 L632.25 492.6 L634.21 491.95 L635.51 489.99 L636.16 486.73 L636.16 484.78 L635.51 481.52 L634.21 479.56 L632.25 478.91 L630.95 478.91 M641.38 491.3 L640.73 491.95 L641.38 492.6 L642.03 491.95 L641.38 491.3 M648.55 481.52 L649.86 480.86 L651.81 478.91 L651.81 492.6 M667.46 478.91 L660.94 478.91 L660.29 484.78 L660.94 484.12 L662.9 483.47 L664.85 483.47 L666.81 484.12 L668.11 485.43 L668.76 487.38 L668.76 488.69 L668.11 490.64 L666.81 491.95 L664.85 492.6 L662.9 492.6 L660.94 491.95 L660.29 491.3 L659.64 489.99 M65.91 73.48 L67.22 72.83 L69.17 70.87 L69.17 84.57 M80.91 70.87 L78.95 71.53 L77.65 73.48 L77 76.74 L77 78.7 L77.65 81.96 L78.95 83.91 L80.91 84.57 L82.21 84.57 L84.17 83.91 L85.47 81.96 L86.12 78.7 L86.12 76.74 L85.47 73.48 L84.17 71.53 L82.21 70.87 L80.91 70.87 M91.5 70.73 L98.77 70.73 M102 67.9 L102 67.5 L102.4 66.69 L102.81 66.29 L103.62 65.88 L105.23 65.88 L106.04 66.29 L106.44 66.69 L106.85 67.5 L106.85 68.31 L106.44 69.11 L105.64 70.33 L101.6 74.37 L107.25 74.37 M65.91 170.22 L67.22 169.56 L69.17 167.61 L69.17 181.3 M80.91 167.61 L78.95 168.26 L77.65 170.22 L77 173.48 L77 175.43 L77.65 178.69 L78.95 180.65 L80.91 181.3 L82.21 181.3 L84.17 180.65 L85.47 178.69 L86.12 175.43 L86.12 173.48 L85.47 170.22 L84.17 168.26 L82.21 167.61 L80.91 167.61 M91.5 167.46 L98.77 167.46 M105.64 162.62 L101.6 168.27 L107.66 168.27 M105.64 162.62 L105.64 171.1 M65.91 266.95 L67.22 266.3 L69.17 264.34 L69.17 278.03 M80.91 264.34 L78.95 264.99 L77.65 266.95 L77 270.21 L77 272.17 L77.65 275.43 L78.95 277.38 L80.91 278.03 L82.21 278.03 L84.17 277.38 L85.47 275.43 L86.12 272.17 L86.12 270.21 L85.47 266.95 L84.17 264.99 L82.21 264.34 L80.91 264.34 M91.5 264.2 L98.77 264.2 M106.85 260.56 L106.44 259.75 L105.23 259.35 L104.42 259.35 L103.21 259.75 L102.4 260.97 L102 262.99 L102 265.01 L102.4 266.62 L103.21 267.43 L104.42 267.83 L104.83 267.83 L106.04 267.43 L106.85 266.62 L107.25 265.41 L107.25 265.01 L106.85 263.79 L106.04 262.99 L104.83 262.58 L104.42 262.58 L103.21 262.99 L102.4 263.79 L102 265.01 M65.91 363.68 L67.22 363.03 L69.17 361.07 L69.17 374.77 M80.91 361.07 L78.95 361.73 L77.65 363.68 L77 366.94 L77 368.9 L77.65 372.16 L78.95 374.11 L80.91 374.77 L82.21 374.77 L84.17 374.11 L85.47 372.16 L86.12 368.9 L86.12 366.94 L85.47 363.68 L84.17 361.73 L82.21 361.07 L80.91 361.07 M91.5 360.93 L98.77 360.93 M103.62 356.08 L102.4 356.49 L102 357.29 L102 358.1 L102.4 358.91 L103.21 359.31 L104.83 359.72 L106.04 360.12 L106.85 360.93 L107.25 361.74 L107.25 362.95 L106.85 363.76 L106.44 364.16 L105.23 364.57 L103.62 364.57 L102.4 364.16 L102 363.76 L101.6 362.95 L101.6 361.74 L102 360.93 L102.81 360.12 L104.02 359.72 L105.64 359.31 L106.44 358.91 L106.85 358.1 L106.85 357.29 L106.44 356.49 L105.23 356.08 L103.62 356.08 M58.91 451.52 L60.22 450.86 L62.17 448.91 L62.17 462.6 M73.91 448.91 L71.95 449.56 L70.65 451.52 L70 454.78 L70 456.73 L70.65 459.99 L71.95 461.95 L73.91 462.6 L75.21 462.6 L77.17 461.95 L78.47 459.99 L79.12 456.73 L79.12 454.78 L78.47 451.52 L77.17 449.56 L75.21 448.91 L73.91 448.91 M84.5 448.76 L91.77 448.76 M95.81 445.53 L96.62 445.13 L97.83 443.92 L97.83 452.4 M105.1 443.92 L103.89 444.32 L103.08 445.53 L102.68 447.55 L102.68 448.76 L103.08 450.78 L103.89 452 L105.1 452.4 L105.91 452.4 L107.12 452 L107.93 450.78 L108.33 448.76 L108.33 447.55 L107.93 445.53 L107.12 444.32 L105.91 443.92 L105.1 443.92" stroke="#555555" stroke-width="1" fill="none" stroke-linecap="round" stroke-linejoin="round"/>
<g style="will-change:transform" font-family="'Liberation Serif', serif" fill="#333333" font-size="17.6" text-anchor="end">
<text x="696.4" y="38.8">20</text>
<text x="696.4" y="106.75">16</text>
<text x="696.4" y="179.3">13</text>
<text x="696.4" y="251.85">10</text>
<text x="696.4" y="324.4">6</text>
<text x="696.4" y="396.95">3</text>
<text x="696.4" y="463.9">0</text>
</g>
<g style="will-change:transform" fill="#1c1c1c" font-family="'Liberation Serif', serif">
<text x="690.4" y="489.2" font-size="22.5" font-style="italic" textLength="12.2" lengthAdjust="spacingAndGlyphs">μ</text>
<path d="M704.6 492.2 L714.8 474.8" stroke="#1c1c1c" stroke-width="1.5" fill="none"/>
<text x="716.2" y="489.4" font-size="20.6">m</text>
<text x="734" y="493.3" font-size="11.6" font-weight="bold">Pl</text>
</g>
<g stroke="#4a4a4a" stroke-width="1.1" fill="none" stroke-linecap="round">
<path d="M380.7 510.14 C378.7 508.71 372.7 508.81 372.7 513.75 C372.7 518.69 378.7 518.78 380.7 517.36 M373 513.75 H379.26"/>
<path d="M383.4 517.2 C383.6 514.6 389.6 514.2 389.6 517.2 C389.6 519.6 384.6 520.6 383.2 523.4 H390.4"/>
<g transform="translate(37.6 253.8) rotate(-90)">
<path d="M7.2 -9.18 C5.4 -10.71 0 -10.6 0 -5.3 C0 0 5.4 0.11 7.2 -1.42 M0.3 -5.3 H5.9"/>
<path d="M13.4 -4.3 V5.4 M11.6 5.4 H15.8 M13.4 -4.3 L11.8 -2.4"/>
</g>
</g>
</svg>
</body></html>
